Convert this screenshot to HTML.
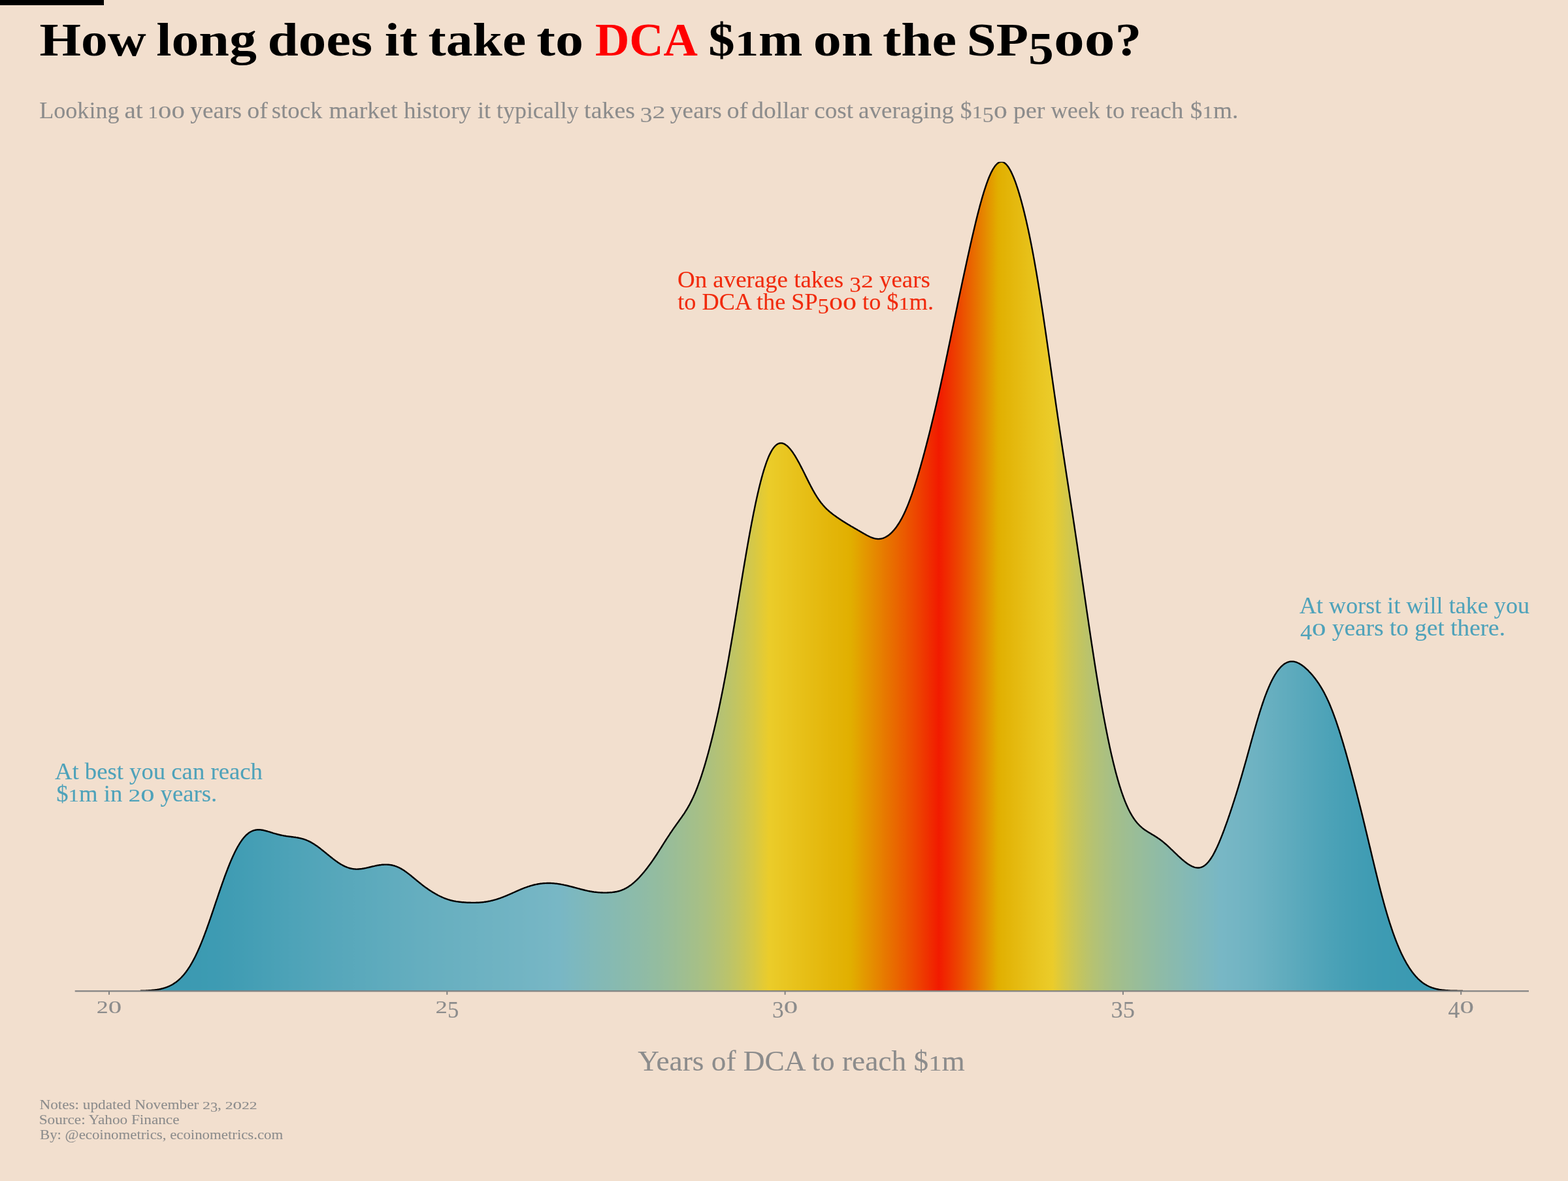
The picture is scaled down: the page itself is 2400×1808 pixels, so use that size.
<!DOCTYPE html>
<html lang="en"><head><meta charset="utf-8"><title>How long does it take to DCA $1m on the SP500?</title>
<style>
html,body{margin:0;padding:0;background:#f2dfce;}
body{width:2400px;height:1808px;overflow:hidden;}
svg{display:block;}
text{font-family:"Liberation Serif",serif;white-space:pre;}
</style></head><body>
<svg xmlns="http://www.w3.org/2000/svg" width="2400" height="1808" viewBox="0 0 2400 1808">
<defs><linearGradient id="g" gradientUnits="userSpaceOnUse" x1="214.9" y1="0" x2="2238.9" y2="0">
<stop offset="0.0000" stop-color="#3b9ab2"/>
<stop offset="0.0010" stop-color="#3b9ab2"/>
<stop offset="0.0020" stop-color="#3b9ab2"/>
<stop offset="0.0030" stop-color="#3b9ab2"/>
<stop offset="0.0040" stop-color="#3b9ab2"/>
<stop offset="0.0049" stop-color="#3b9ab2"/>
<stop offset="0.0059" stop-color="#3b9ab2"/>
<stop offset="0.0069" stop-color="#3b9ab2"/>
<stop offset="0.0079" stop-color="#3b9ab2"/>
<stop offset="0.0089" stop-color="#3b9ab2"/>
<stop offset="0.0099" stop-color="#3b9ab2"/>
<stop offset="0.0109" stop-color="#3b9ab2"/>
<stop offset="0.0119" stop-color="#3b9ab2"/>
<stop offset="0.0128" stop-color="#3b9ab2"/>
<stop offset="0.0138" stop-color="#3b9ab2"/>
<stop offset="0.0148" stop-color="#3b9ab2"/>
<stop offset="0.0158" stop-color="#3b9ab2"/>
<stop offset="0.0168" stop-color="#3b9ab2"/>
<stop offset="0.0178" stop-color="#3b9ab2"/>
<stop offset="0.0188" stop-color="#3b9ab2"/>
<stop offset="0.0198" stop-color="#3b9ab2"/>
<stop offset="0.0208" stop-color="#3b9ab2"/>
<stop offset="0.0217" stop-color="#3b9ab2"/>
<stop offset="0.0227" stop-color="#3b9ab2"/>
<stop offset="0.0237" stop-color="#3b9ab2"/>
<stop offset="0.0247" stop-color="#3b9ab2"/>
<stop offset="0.0257" stop-color="#3b9ab2"/>
<stop offset="0.0267" stop-color="#3b9ab2"/>
<stop offset="0.0277" stop-color="#3b9ab2"/>
<stop offset="0.0287" stop-color="#3b9ab2"/>
<stop offset="0.0296" stop-color="#3b9ab2"/>
<stop offset="0.0306" stop-color="#3b9ab2"/>
<stop offset="0.0316" stop-color="#3b9ab2"/>
<stop offset="0.0326" stop-color="#3b9ab2"/>
<stop offset="0.0336" stop-color="#3b9ab2"/>
<stop offset="0.0346" stop-color="#3b9ab2"/>
<stop offset="0.0356" stop-color="#3b9ab2"/>
<stop offset="0.0366" stop-color="#3b9ab2"/>
<stop offset="0.0375" stop-color="#3b9ab2"/>
<stop offset="0.0385" stop-color="#3c9ab2"/>
<stop offset="0.0395" stop-color="#3c9ab2"/>
<stop offset="0.0405" stop-color="#3c9ab2"/>
<stop offset="0.0415" stop-color="#3c9ab2"/>
<stop offset="0.0425" stop-color="#3c9ab2"/>
<stop offset="0.0435" stop-color="#3c9ab2"/>
<stop offset="0.0445" stop-color="#3c9ab2"/>
<stop offset="0.0455" stop-color="#3c9ab2"/>
<stop offset="0.0464" stop-color="#3c9bb2"/>
<stop offset="0.0474" stop-color="#3c9bb2"/>
<stop offset="0.0484" stop-color="#3c9bb2"/>
<stop offset="0.0494" stop-color="#3c9bb2"/>
<stop offset="0.0504" stop-color="#3c9bb2"/>
<stop offset="0.0514" stop-color="#3d9bb3"/>
<stop offset="0.0524" stop-color="#3d9bb3"/>
<stop offset="0.0534" stop-color="#3d9bb3"/>
<stop offset="0.0543" stop-color="#3d9bb3"/>
<stop offset="0.0553" stop-color="#3d9bb3"/>
<stop offset="0.0563" stop-color="#3d9bb3"/>
<stop offset="0.0573" stop-color="#3d9bb3"/>
<stop offset="0.0583" stop-color="#3e9bb3"/>
<stop offset="0.0593" stop-color="#3e9bb3"/>
<stop offset="0.0603" stop-color="#3e9bb3"/>
<stop offset="0.0613" stop-color="#3e9cb3"/>
<stop offset="0.0623" stop-color="#3e9cb3"/>
<stop offset="0.0632" stop-color="#3f9cb3"/>
<stop offset="0.0642" stop-color="#3f9cb3"/>
<stop offset="0.0652" stop-color="#3f9cb3"/>
<stop offset="0.0662" stop-color="#3f9cb3"/>
<stop offset="0.0672" stop-color="#409cb3"/>
<stop offset="0.0682" stop-color="#409cb3"/>
<stop offset="0.0692" stop-color="#409cb4"/>
<stop offset="0.0702" stop-color="#409cb4"/>
<stop offset="0.0711" stop-color="#419db4"/>
<stop offset="0.0721" stop-color="#419db4"/>
<stop offset="0.0731" stop-color="#419db4"/>
<stop offset="0.0741" stop-color="#419db4"/>
<stop offset="0.0751" stop-color="#429db4"/>
<stop offset="0.0761" stop-color="#429db4"/>
<stop offset="0.0771" stop-color="#429db4"/>
<stop offset="0.0781" stop-color="#429eb4"/>
<stop offset="0.0791" stop-color="#439eb4"/>
<stop offset="0.0800" stop-color="#439eb4"/>
<stop offset="0.0810" stop-color="#439eb5"/>
<stop offset="0.0820" stop-color="#449eb5"/>
<stop offset="0.0830" stop-color="#449eb5"/>
<stop offset="0.0840" stop-color="#449eb5"/>
<stop offset="0.0850" stop-color="#449eb5"/>
<stop offset="0.0860" stop-color="#459fb5"/>
<stop offset="0.0870" stop-color="#459fb5"/>
<stop offset="0.0879" stop-color="#459fb5"/>
<stop offset="0.0889" stop-color="#469fb5"/>
<stop offset="0.0899" stop-color="#469fb5"/>
<stop offset="0.0909" stop-color="#469fb6"/>
<stop offset="0.0919" stop-color="#479fb6"/>
<stop offset="0.0929" stop-color="#47a0b6"/>
<stop offset="0.0939" stop-color="#47a0b6"/>
<stop offset="0.0949" stop-color="#47a0b6"/>
<stop offset="0.0958" stop-color="#48a0b6"/>
<stop offset="0.0968" stop-color="#48a0b6"/>
<stop offset="0.0978" stop-color="#48a0b6"/>
<stop offset="0.0988" stop-color="#49a0b6"/>
<stop offset="0.0998" stop-color="#49a1b6"/>
<stop offset="0.1008" stop-color="#49a1b6"/>
<stop offset="0.1018" stop-color="#4aa1b7"/>
<stop offset="0.1028" stop-color="#4aa1b7"/>
<stop offset="0.1038" stop-color="#4aa1b7"/>
<stop offset="0.1047" stop-color="#4aa1b7"/>
<stop offset="0.1057" stop-color="#4ba1b7"/>
<stop offset="0.1067" stop-color="#4ba2b7"/>
<stop offset="0.1077" stop-color="#4ba2b7"/>
<stop offset="0.1087" stop-color="#4ca2b7"/>
<stop offset="0.1097" stop-color="#4ca2b7"/>
<stop offset="0.1107" stop-color="#4ca2b7"/>
<stop offset="0.1117" stop-color="#4ca2b7"/>
<stop offset="0.1126" stop-color="#4da2b8"/>
<stop offset="0.1136" stop-color="#4da3b8"/>
<stop offset="0.1146" stop-color="#4da3b8"/>
<stop offset="0.1156" stop-color="#4ea3b8"/>
<stop offset="0.1166" stop-color="#4ea3b8"/>
<stop offset="0.1176" stop-color="#4ea3b8"/>
<stop offset="0.1186" stop-color="#4ea3b8"/>
<stop offset="0.1196" stop-color="#4fa3b8"/>
<stop offset="0.1206" stop-color="#4fa3b8"/>
<stop offset="0.1215" stop-color="#4fa4b8"/>
<stop offset="0.1225" stop-color="#50a4b8"/>
<stop offset="0.1235" stop-color="#50a4b8"/>
<stop offset="0.1245" stop-color="#50a4b9"/>
<stop offset="0.1255" stop-color="#50a4b9"/>
<stop offset="0.1265" stop-color="#51a4b9"/>
<stop offset="0.1275" stop-color="#51a4b9"/>
<stop offset="0.1285" stop-color="#51a5b9"/>
<stop offset="0.1294" stop-color="#51a5b9"/>
<stop offset="0.1304" stop-color="#52a5b9"/>
<stop offset="0.1314" stop-color="#52a5b9"/>
<stop offset="0.1324" stop-color="#52a5b9"/>
<stop offset="0.1334" stop-color="#53a5b9"/>
<stop offset="0.1344" stop-color="#53a5b9"/>
<stop offset="0.1354" stop-color="#53a5ba"/>
<stop offset="0.1364" stop-color="#53a6ba"/>
<stop offset="0.1374" stop-color="#54a6ba"/>
<stop offset="0.1383" stop-color="#54a6ba"/>
<stop offset="0.1393" stop-color="#54a6ba"/>
<stop offset="0.1403" stop-color="#54a6ba"/>
<stop offset="0.1413" stop-color="#55a6ba"/>
<stop offset="0.1423" stop-color="#55a6ba"/>
<stop offset="0.1433" stop-color="#55a6ba"/>
<stop offset="0.1443" stop-color="#55a7ba"/>
<stop offset="0.1453" stop-color="#56a7ba"/>
<stop offset="0.1462" stop-color="#56a7ba"/>
<stop offset="0.1472" stop-color="#56a7ba"/>
<stop offset="0.1482" stop-color="#56a7bb"/>
<stop offset="0.1492" stop-color="#57a7bb"/>
<stop offset="0.1502" stop-color="#57a7bb"/>
<stop offset="0.1512" stop-color="#57a7bb"/>
<stop offset="0.1522" stop-color="#57a7bb"/>
<stop offset="0.1532" stop-color="#58a8bb"/>
<stop offset="0.1542" stop-color="#58a8bb"/>
<stop offset="0.1551" stop-color="#58a8bb"/>
<stop offset="0.1561" stop-color="#58a8bb"/>
<stop offset="0.1571" stop-color="#58a8bb"/>
<stop offset="0.1581" stop-color="#59a8bb"/>
<stop offset="0.1591" stop-color="#59a8bb"/>
<stop offset="0.1601" stop-color="#59a8bb"/>
<stop offset="0.1611" stop-color="#59a8bb"/>
<stop offset="0.1621" stop-color="#5aa9bc"/>
<stop offset="0.1630" stop-color="#5aa9bc"/>
<stop offset="0.1640" stop-color="#5aa9bc"/>
<stop offset="0.1650" stop-color="#5aa9bc"/>
<stop offset="0.1660" stop-color="#5ba9bc"/>
<stop offset="0.1670" stop-color="#5ba9bc"/>
<stop offset="0.1680" stop-color="#5ba9bc"/>
<stop offset="0.1690" stop-color="#5ba9bc"/>
<stop offset="0.1700" stop-color="#5ba9bc"/>
<stop offset="0.1709" stop-color="#5caabc"/>
<stop offset="0.1719" stop-color="#5caabc"/>
<stop offset="0.1729" stop-color="#5caabc"/>
<stop offset="0.1739" stop-color="#5caabc"/>
<stop offset="0.1749" stop-color="#5daabc"/>
<stop offset="0.1759" stop-color="#5daabd"/>
<stop offset="0.1769" stop-color="#5daabd"/>
<stop offset="0.1779" stop-color="#5daabd"/>
<stop offset="0.1789" stop-color="#5eaabd"/>
<stop offset="0.1798" stop-color="#5eabbd"/>
<stop offset="0.1808" stop-color="#5eabbd"/>
<stop offset="0.1818" stop-color="#5eabbd"/>
<stop offset="0.1828" stop-color="#5eabbd"/>
<stop offset="0.1838" stop-color="#5fabbd"/>
<stop offset="0.1848" stop-color="#5fabbd"/>
<stop offset="0.1858" stop-color="#5fabbd"/>
<stop offset="0.1868" stop-color="#5fabbd"/>
<stop offset="0.1877" stop-color="#60abbd"/>
<stop offset="0.1887" stop-color="#60acbd"/>
<stop offset="0.1897" stop-color="#60acbe"/>
<stop offset="0.1907" stop-color="#60acbe"/>
<stop offset="0.1917" stop-color="#61acbe"/>
<stop offset="0.1927" stop-color="#61acbe"/>
<stop offset="0.1937" stop-color="#61acbe"/>
<stop offset="0.1947" stop-color="#61acbe"/>
<stop offset="0.1957" stop-color="#61acbe"/>
<stop offset="0.1966" stop-color="#62acbe"/>
<stop offset="0.1976" stop-color="#62adbe"/>
<stop offset="0.1986" stop-color="#62adbe"/>
<stop offset="0.1996" stop-color="#62adbe"/>
<stop offset="0.2006" stop-color="#63adbe"/>
<stop offset="0.2016" stop-color="#63adbe"/>
<stop offset="0.2026" stop-color="#63adbe"/>
<stop offset="0.2036" stop-color="#63adbf"/>
<stop offset="0.2045" stop-color="#63adbf"/>
<stop offset="0.2055" stop-color="#64adbf"/>
<stop offset="0.2065" stop-color="#64adbf"/>
<stop offset="0.2075" stop-color="#64aebf"/>
<stop offset="0.2085" stop-color="#64aebf"/>
<stop offset="0.2095" stop-color="#65aebf"/>
<stop offset="0.2105" stop-color="#65aebf"/>
<stop offset="0.2115" stop-color="#65aebf"/>
<stop offset="0.2125" stop-color="#65aebf"/>
<stop offset="0.2134" stop-color="#65aebf"/>
<stop offset="0.2144" stop-color="#66aebf"/>
<stop offset="0.2154" stop-color="#66aebf"/>
<stop offset="0.2164" stop-color="#66aebf"/>
<stop offset="0.2174" stop-color="#66aebf"/>
<stop offset="0.2184" stop-color="#66afbf"/>
<stop offset="0.2194" stop-color="#66afc0"/>
<stop offset="0.2204" stop-color="#67afc0"/>
<stop offset="0.2213" stop-color="#67afc0"/>
<stop offset="0.2223" stop-color="#67afc0"/>
<stop offset="0.2233" stop-color="#67afc0"/>
<stop offset="0.2243" stop-color="#67afc0"/>
<stop offset="0.2253" stop-color="#68afc0"/>
<stop offset="0.2263" stop-color="#68afc0"/>
<stop offset="0.2273" stop-color="#68afc0"/>
<stop offset="0.2283" stop-color="#68afc0"/>
<stop offset="0.2292" stop-color="#68b0c0"/>
<stop offset="0.2302" stop-color="#68b0c0"/>
<stop offset="0.2312" stop-color="#69b0c0"/>
<stop offset="0.2322" stop-color="#69b0c0"/>
<stop offset="0.2332" stop-color="#69b0c0"/>
<stop offset="0.2342" stop-color="#69b0c0"/>
<stop offset="0.2352" stop-color="#69b0c0"/>
<stop offset="0.2362" stop-color="#69b0c0"/>
<stop offset="0.2372" stop-color="#6ab0c1"/>
<stop offset="0.2381" stop-color="#6ab0c1"/>
<stop offset="0.2391" stop-color="#6ab0c1"/>
<stop offset="0.2401" stop-color="#6ab0c1"/>
<stop offset="0.2411" stop-color="#6ab0c1"/>
<stop offset="0.2421" stop-color="#6ab1c1"/>
<stop offset="0.2431" stop-color="#6bb1c1"/>
<stop offset="0.2441" stop-color="#6bb1c1"/>
<stop offset="0.2451" stop-color="#6bb1c1"/>
<stop offset="0.2460" stop-color="#6bb1c1"/>
<stop offset="0.2470" stop-color="#6bb1c1"/>
<stop offset="0.2480" stop-color="#6bb1c1"/>
<stop offset="0.2490" stop-color="#6cb1c1"/>
<stop offset="0.2500" stop-color="#6cb1c1"/>
<stop offset="0.2510" stop-color="#6cb1c1"/>
<stop offset="0.2520" stop-color="#6cb1c1"/>
<stop offset="0.2530" stop-color="#6cb1c1"/>
<stop offset="0.2540" stop-color="#6cb1c1"/>
<stop offset="0.2549" stop-color="#6db2c1"/>
<stop offset="0.2559" stop-color="#6db2c1"/>
<stop offset="0.2569" stop-color="#6db2c2"/>
<stop offset="0.2579" stop-color="#6db2c2"/>
<stop offset="0.2589" stop-color="#6db2c2"/>
<stop offset="0.2599" stop-color="#6db2c2"/>
<stop offset="0.2609" stop-color="#6eb2c2"/>
<stop offset="0.2619" stop-color="#6eb2c2"/>
<stop offset="0.2628" stop-color="#6eb2c2"/>
<stop offset="0.2638" stop-color="#6eb2c2"/>
<stop offset="0.2648" stop-color="#6eb2c2"/>
<stop offset="0.2658" stop-color="#6eb2c2"/>
<stop offset="0.2668" stop-color="#6fb3c2"/>
<stop offset="0.2678" stop-color="#6fb3c2"/>
<stop offset="0.2688" stop-color="#6fb3c2"/>
<stop offset="0.2698" stop-color="#6fb3c2"/>
<stop offset="0.2708" stop-color="#6fb3c2"/>
<stop offset="0.2717" stop-color="#6fb3c2"/>
<stop offset="0.2727" stop-color="#70b3c2"/>
<stop offset="0.2737" stop-color="#70b3c2"/>
<stop offset="0.2747" stop-color="#70b3c2"/>
<stop offset="0.2757" stop-color="#70b3c3"/>
<stop offset="0.2767" stop-color="#70b3c3"/>
<stop offset="0.2777" stop-color="#70b3c3"/>
<stop offset="0.2787" stop-color="#71b3c3"/>
<stop offset="0.2796" stop-color="#71b4c3"/>
<stop offset="0.2806" stop-color="#71b4c3"/>
<stop offset="0.2816" stop-color="#71b4c3"/>
<stop offset="0.2826" stop-color="#71b4c3"/>
<stop offset="0.2836" stop-color="#72b4c3"/>
<stop offset="0.2846" stop-color="#72b4c3"/>
<stop offset="0.2856" stop-color="#72b4c3"/>
<stop offset="0.2866" stop-color="#72b4c3"/>
<stop offset="0.2875" stop-color="#72b4c3"/>
<stop offset="0.2885" stop-color="#72b4c3"/>
<stop offset="0.2895" stop-color="#73b4c3"/>
<stop offset="0.2905" stop-color="#73b5c3"/>
<stop offset="0.2915" stop-color="#73b5c3"/>
<stop offset="0.2925" stop-color="#73b5c4"/>
<stop offset="0.2935" stop-color="#73b5c4"/>
<stop offset="0.2945" stop-color="#74b5c4"/>
<stop offset="0.2955" stop-color="#74b5c4"/>
<stop offset="0.2964" stop-color="#74b5c4"/>
<stop offset="0.2974" stop-color="#74b5c4"/>
<stop offset="0.2984" stop-color="#74b5c4"/>
<stop offset="0.2994" stop-color="#75b5c4"/>
<stop offset="0.3004" stop-color="#75b5c4"/>
<stop offset="0.3014" stop-color="#75b6c4"/>
<stop offset="0.3024" stop-color="#75b6c4"/>
<stop offset="0.3034" stop-color="#75b6c4"/>
<stop offset="0.3043" stop-color="#76b6c4"/>
<stop offset="0.3053" stop-color="#76b6c4"/>
<stop offset="0.3063" stop-color="#76b6c4"/>
<stop offset="0.3073" stop-color="#76b6c4"/>
<stop offset="0.3083" stop-color="#76b6c4"/>
<stop offset="0.3093" stop-color="#77b6c5"/>
<stop offset="0.3103" stop-color="#77b6c5"/>
<stop offset="0.3113" stop-color="#77b7c5"/>
<stop offset="0.3123" stop-color="#77b7c5"/>
<stop offset="0.3132" stop-color="#77b7c5"/>
<stop offset="0.3142" stop-color="#78b7c5"/>
<stop offset="0.3152" stop-color="#78b7c5"/>
<stop offset="0.3162" stop-color="#78b7c5"/>
<stop offset="0.3172" stop-color="#78b7c5"/>
<stop offset="0.3182" stop-color="#79b7c4"/>
<stop offset="0.3192" stop-color="#79b7c4"/>
<stop offset="0.3202" stop-color="#79b7c3"/>
<stop offset="0.3211" stop-color="#7ab7c3"/>
<stop offset="0.3221" stop-color="#7ab7c2"/>
<stop offset="0.3231" stop-color="#7bb7c2"/>
<stop offset="0.3241" stop-color="#7bb8c1"/>
<stop offset="0.3251" stop-color="#7bb8c1"/>
<stop offset="0.3261" stop-color="#7cb8c0"/>
<stop offset="0.3271" stop-color="#7cb8c0"/>
<stop offset="0.3281" stop-color="#7cb8bf"/>
<stop offset="0.3291" stop-color="#7db8bf"/>
<stop offset="0.3300" stop-color="#7db8be"/>
<stop offset="0.3310" stop-color="#7db8be"/>
<stop offset="0.3320" stop-color="#7eb8bd"/>
<stop offset="0.3330" stop-color="#7eb8bd"/>
<stop offset="0.3340" stop-color="#7eb8bc"/>
<stop offset="0.3350" stop-color="#7fb8bc"/>
<stop offset="0.3360" stop-color="#7fb8bb"/>
<stop offset="0.3370" stop-color="#80b8bb"/>
<stop offset="0.3379" stop-color="#80b8ba"/>
<stop offset="0.3389" stop-color="#80b8ba"/>
<stop offset="0.3399" stop-color="#81b9b9"/>
<stop offset="0.3409" stop-color="#81b9b9"/>
<stop offset="0.3419" stop-color="#81b9b9"/>
<stop offset="0.3429" stop-color="#82b9b8"/>
<stop offset="0.3439" stop-color="#82b9b8"/>
<stop offset="0.3449" stop-color="#82b9b7"/>
<stop offset="0.3458" stop-color="#83b9b7"/>
<stop offset="0.3468" stop-color="#83b9b6"/>
<stop offset="0.3478" stop-color="#83b9b6"/>
<stop offset="0.3488" stop-color="#84b9b5"/>
<stop offset="0.3498" stop-color="#84b9b5"/>
<stop offset="0.3508" stop-color="#84b9b4"/>
<stop offset="0.3518" stop-color="#85b9b4"/>
<stop offset="0.3528" stop-color="#85b9b4"/>
<stop offset="0.3538" stop-color="#85b9b3"/>
<stop offset="0.3547" stop-color="#86b9b3"/>
<stop offset="0.3557" stop-color="#86bab2"/>
<stop offset="0.3567" stop-color="#86bab2"/>
<stop offset="0.3577" stop-color="#87bab1"/>
<stop offset="0.3587" stop-color="#87bab1"/>
<stop offset="0.3597" stop-color="#87bab0"/>
<stop offset="0.3607" stop-color="#88bab0"/>
<stop offset="0.3617" stop-color="#88baaf"/>
<stop offset="0.3626" stop-color="#88baaf"/>
<stop offset="0.3636" stop-color="#89baae"/>
<stop offset="0.3646" stop-color="#89baae"/>
<stop offset="0.3656" stop-color="#89baad"/>
<stop offset="0.3666" stop-color="#8abaad"/>
<stop offset="0.3676" stop-color="#8abaad"/>
<stop offset="0.3686" stop-color="#8bbaac"/>
<stop offset="0.3696" stop-color="#8bbaac"/>
<stop offset="0.3706" stop-color="#8bbbab"/>
<stop offset="0.3715" stop-color="#8cbbab"/>
<stop offset="0.3725" stop-color="#8cbbaa"/>
<stop offset="0.3735" stop-color="#8cbbaa"/>
<stop offset="0.3745" stop-color="#8dbba9"/>
<stop offset="0.3755" stop-color="#8dbba9"/>
<stop offset="0.3765" stop-color="#8dbba8"/>
<stop offset="0.3775" stop-color="#8ebba8"/>
<stop offset="0.3785" stop-color="#8ebba7"/>
<stop offset="0.3794" stop-color="#8fbba6"/>
<stop offset="0.3804" stop-color="#8fbba6"/>
<stop offset="0.3814" stop-color="#90bba5"/>
<stop offset="0.3824" stop-color="#90bba5"/>
<stop offset="0.3834" stop-color="#90bba4"/>
<stop offset="0.3844" stop-color="#91bca4"/>
<stop offset="0.3854" stop-color="#91bca3"/>
<stop offset="0.3864" stop-color="#92bca2"/>
<stop offset="0.3874" stop-color="#92bca2"/>
<stop offset="0.3883" stop-color="#93bca1"/>
<stop offset="0.3893" stop-color="#93bca1"/>
<stop offset="0.3903" stop-color="#93bca0"/>
<stop offset="0.3913" stop-color="#94bc9f"/>
<stop offset="0.3923" stop-color="#94bc9f"/>
<stop offset="0.3933" stop-color="#95bc9e"/>
<stop offset="0.3943" stop-color="#95bc9d"/>
<stop offset="0.3953" stop-color="#96bc9d"/>
<stop offset="0.3962" stop-color="#96bd9c"/>
<stop offset="0.3972" stop-color="#97bd9b"/>
<stop offset="0.3982" stop-color="#97bd9b"/>
<stop offset="0.3992" stop-color="#98bd9a"/>
<stop offset="0.4002" stop-color="#99bd99"/>
<stop offset="0.4012" stop-color="#99bd98"/>
<stop offset="0.4022" stop-color="#9abd98"/>
<stop offset="0.4032" stop-color="#9abd97"/>
<stop offset="0.4042" stop-color="#9bbd96"/>
<stop offset="0.4051" stop-color="#9bbd95"/>
<stop offset="0.4061" stop-color="#9cbe95"/>
<stop offset="0.4071" stop-color="#9dbe94"/>
<stop offset="0.4081" stop-color="#9dbe93"/>
<stop offset="0.4091" stop-color="#9ebe92"/>
<stop offset="0.4101" stop-color="#9ebe91"/>
<stop offset="0.4111" stop-color="#9fbe91"/>
<stop offset="0.4121" stop-color="#a0be90"/>
<stop offset="0.4130" stop-color="#a0be8f"/>
<stop offset="0.4140" stop-color="#a1be8e"/>
<stop offset="0.4150" stop-color="#a1bf8d"/>
<stop offset="0.4160" stop-color="#a2bf8c"/>
<stop offset="0.4170" stop-color="#a3bf8b"/>
<stop offset="0.4180" stop-color="#a3bf8a"/>
<stop offset="0.4190" stop-color="#a4bf8a"/>
<stop offset="0.4200" stop-color="#a5bf89"/>
<stop offset="0.4209" stop-color="#a5bf88"/>
<stop offset="0.4219" stop-color="#a6bf87"/>
<stop offset="0.4229" stop-color="#a7c086"/>
<stop offset="0.4239" stop-color="#a8c085"/>
<stop offset="0.4249" stop-color="#a8c084"/>
<stop offset="0.4259" stop-color="#a9c083"/>
<stop offset="0.4269" stop-color="#aac082"/>
<stop offset="0.4279" stop-color="#abc081"/>
<stop offset="0.4289" stop-color="#acc080"/>
<stop offset="0.4298" stop-color="#acc17e"/>
<stop offset="0.4308" stop-color="#adc17d"/>
<stop offset="0.4318" stop-color="#aec17c"/>
<stop offset="0.4328" stop-color="#afc17b"/>
<stop offset="0.4338" stop-color="#b0c17a"/>
<stop offset="0.4348" stop-color="#b1c179"/>
<stop offset="0.4358" stop-color="#b2c277"/>
<stop offset="0.4368" stop-color="#b3c276"/>
<stop offset="0.4377" stop-color="#b4c275"/>
<stop offset="0.4387" stop-color="#b5c273"/>
<stop offset="0.4397" stop-color="#b6c272"/>
<stop offset="0.4407" stop-color="#b7c271"/>
<stop offset="0.4417" stop-color="#b8c36f"/>
<stop offset="0.4427" stop-color="#b9c36e"/>
<stop offset="0.4437" stop-color="#bac36c"/>
<stop offset="0.4447" stop-color="#bbc36b"/>
<stop offset="0.4457" stop-color="#bcc369"/>
<stop offset="0.4466" stop-color="#bdc467"/>
<stop offset="0.4476" stop-color="#bfc466"/>
<stop offset="0.4486" stop-color="#c0c464"/>
<stop offset="0.4496" stop-color="#c1c462"/>
<stop offset="0.4506" stop-color="#c2c561"/>
<stop offset="0.4516" stop-color="#c4c55f"/>
<stop offset="0.4526" stop-color="#c5c55d"/>
<stop offset="0.4536" stop-color="#c7c55b"/>
<stop offset="0.4545" stop-color="#c8c659"/>
<stop offset="0.4555" stop-color="#c9c657"/>
<stop offset="0.4565" stop-color="#cbc655"/>
<stop offset="0.4575" stop-color="#ccc653"/>
<stop offset="0.4585" stop-color="#cec751"/>
<stop offset="0.4595" stop-color="#cfc74f"/>
<stop offset="0.4605" stop-color="#d1c74d"/>
<stop offset="0.4615" stop-color="#d3c84b"/>
<stop offset="0.4625" stop-color="#d4c849"/>
<stop offset="0.4634" stop-color="#d6c847"/>
<stop offset="0.4644" stop-color="#d7c844"/>
<stop offset="0.4654" stop-color="#d9c942"/>
<stop offset="0.4664" stop-color="#dbc940"/>
<stop offset="0.4674" stop-color="#ddc93e"/>
<stop offset="0.4684" stop-color="#deca3b"/>
<stop offset="0.4694" stop-color="#e0ca39"/>
<stop offset="0.4704" stop-color="#e2ca36"/>
<stop offset="0.4713" stop-color="#e4cb34"/>
<stop offset="0.4723" stop-color="#e5cb32"/>
<stop offset="0.4733" stop-color="#e7cb2f"/>
<stop offset="0.4743" stop-color="#e9cc2d"/>
<stop offset="0.4753" stop-color="#ebcc2a"/>
<stop offset="0.4763" stop-color="#ebcc29"/>
<stop offset="0.4773" stop-color="#ebcb29"/>
<stop offset="0.4783" stop-color="#eacb28"/>
<stop offset="0.4792" stop-color="#eaca27"/>
<stop offset="0.4802" stop-color="#eaca26"/>
<stop offset="0.4812" stop-color="#eac926"/>
<stop offset="0.4822" stop-color="#eac925"/>
<stop offset="0.4832" stop-color="#eac824"/>
<stop offset="0.4842" stop-color="#e9c824"/>
<stop offset="0.4852" stop-color="#e9c723"/>
<stop offset="0.4862" stop-color="#e9c722"/>
<stop offset="0.4872" stop-color="#e9c621"/>
<stop offset="0.4881" stop-color="#e9c621"/>
<stop offset="0.4891" stop-color="#e9c520"/>
<stop offset="0.4901" stop-color="#e8c51f"/>
<stop offset="0.4911" stop-color="#e8c41f"/>
<stop offset="0.4921" stop-color="#e8c41e"/>
<stop offset="0.4931" stop-color="#e8c31d"/>
<stop offset="0.4941" stop-color="#e8c31c"/>
<stop offset="0.4951" stop-color="#e8c21c"/>
<stop offset="0.4960" stop-color="#e7c21b"/>
<stop offset="0.4970" stop-color="#e7c11a"/>
<stop offset="0.4980" stop-color="#e7c11a"/>
<stop offset="0.4990" stop-color="#e7c019"/>
<stop offset="0.5000" stop-color="#e7c018"/>
<stop offset="0.5010" stop-color="#e7bf17"/>
<stop offset="0.5020" stop-color="#e6bf17"/>
<stop offset="0.5030" stop-color="#e6be16"/>
<stop offset="0.5040" stop-color="#e6be15"/>
<stop offset="0.5049" stop-color="#e6bd15"/>
<stop offset="0.5059" stop-color="#e6bd14"/>
<stop offset="0.5069" stop-color="#e6bc13"/>
<stop offset="0.5079" stop-color="#e5bc13"/>
<stop offset="0.5089" stop-color="#e5bb12"/>
<stop offset="0.5099" stop-color="#e5bb11"/>
<stop offset="0.5109" stop-color="#e5bb11"/>
<stop offset="0.5119" stop-color="#e5ba10"/>
<stop offset="0.5128" stop-color="#e5ba0f"/>
<stop offset="0.5138" stop-color="#e5b90f"/>
<stop offset="0.5148" stop-color="#e4b90e"/>
<stop offset="0.5158" stop-color="#e4b80e"/>
<stop offset="0.5168" stop-color="#e4b80d"/>
<stop offset="0.5178" stop-color="#e4b70c"/>
<stop offset="0.5188" stop-color="#e4b70c"/>
<stop offset="0.5198" stop-color="#e4b70b"/>
<stop offset="0.5208" stop-color="#e3b60a"/>
<stop offset="0.5217" stop-color="#e3b60a"/>
<stop offset="0.5227" stop-color="#e3b509"/>
<stop offset="0.5237" stop-color="#e3b508"/>
<stop offset="0.5247" stop-color="#e3b408"/>
<stop offset="0.5257" stop-color="#e3b407"/>
<stop offset="0.5267" stop-color="#e3b407"/>
<stop offset="0.5277" stop-color="#e2b306"/>
<stop offset="0.5287" stop-color="#e2b305"/>
<stop offset="0.5296" stop-color="#e2b205"/>
<stop offset="0.5306" stop-color="#e2b204"/>
<stop offset="0.5316" stop-color="#e2b103"/>
<stop offset="0.5326" stop-color="#e2b103"/>
<stop offset="0.5336" stop-color="#e2b102"/>
<stop offset="0.5346" stop-color="#e1b002"/>
<stop offset="0.5356" stop-color="#e1b001"/>
<stop offset="0.5366" stop-color="#e1af00"/>
<stop offset="0.5375" stop-color="#e1ae00"/>
<stop offset="0.5385" stop-color="#e1ac00"/>
<stop offset="0.5395" stop-color="#e2aa00"/>
<stop offset="0.5405" stop-color="#e2a800"/>
<stop offset="0.5415" stop-color="#e2a600"/>
<stop offset="0.5425" stop-color="#e2a400"/>
<stop offset="0.5435" stop-color="#e3a200"/>
<stop offset="0.5445" stop-color="#e39f00"/>
<stop offset="0.5455" stop-color="#e39d00"/>
<stop offset="0.5464" stop-color="#e39b00"/>
<stop offset="0.5474" stop-color="#e39900"/>
<stop offset="0.5484" stop-color="#e49700"/>
<stop offset="0.5494" stop-color="#e49500"/>
<stop offset="0.5504" stop-color="#e49300"/>
<stop offset="0.5514" stop-color="#e49100"/>
<stop offset="0.5524" stop-color="#e58f00"/>
<stop offset="0.5534" stop-color="#e58d00"/>
<stop offset="0.5543" stop-color="#e58b00"/>
<stop offset="0.5553" stop-color="#e58900"/>
<stop offset="0.5563" stop-color="#e68700"/>
<stop offset="0.5573" stop-color="#e68500"/>
<stop offset="0.5583" stop-color="#e68300"/>
<stop offset="0.5593" stop-color="#e68100"/>
<stop offset="0.5603" stop-color="#e77f00"/>
<stop offset="0.5613" stop-color="#e77c00"/>
<stop offset="0.5623" stop-color="#e77a00"/>
<stop offset="0.5632" stop-color="#e77800"/>
<stop offset="0.5642" stop-color="#e77600"/>
<stop offset="0.5652" stop-color="#e87400"/>
<stop offset="0.5662" stop-color="#e87200"/>
<stop offset="0.5672" stop-color="#e87000"/>
<stop offset="0.5682" stop-color="#e86e00"/>
<stop offset="0.5692" stop-color="#e96c00"/>
<stop offset="0.5702" stop-color="#e96a00"/>
<stop offset="0.5711" stop-color="#e96800"/>
<stop offset="0.5721" stop-color="#e96600"/>
<stop offset="0.5731" stop-color="#ea6400"/>
<stop offset="0.5741" stop-color="#ea6100"/>
<stop offset="0.5751" stop-color="#ea5f00"/>
<stop offset="0.5761" stop-color="#ea5d00"/>
<stop offset="0.5771" stop-color="#eb5b00"/>
<stop offset="0.5781" stop-color="#eb5900"/>
<stop offset="0.5791" stop-color="#eb5700"/>
<stop offset="0.5800" stop-color="#eb5400"/>
<stop offset="0.5810" stop-color="#ec5200"/>
<stop offset="0.5820" stop-color="#ec5000"/>
<stop offset="0.5830" stop-color="#ec4e00"/>
<stop offset="0.5840" stop-color="#ec4c00"/>
<stop offset="0.5850" stop-color="#ed4900"/>
<stop offset="0.5860" stop-color="#ed4700"/>
<stop offset="0.5870" stop-color="#ed4500"/>
<stop offset="0.5879" stop-color="#ed4200"/>
<stop offset="0.5889" stop-color="#ee4000"/>
<stop offset="0.5899" stop-color="#ee3e00"/>
<stop offset="0.5909" stop-color="#ee3b00"/>
<stop offset="0.5919" stop-color="#ee3900"/>
<stop offset="0.5929" stop-color="#ef3600"/>
<stop offset="0.5939" stop-color="#ef3400"/>
<stop offset="0.5949" stop-color="#ef3200"/>
<stop offset="0.5958" stop-color="#f02f00"/>
<stop offset="0.5968" stop-color="#f02c00"/>
<stop offset="0.5978" stop-color="#f02a00"/>
<stop offset="0.5988" stop-color="#f02700"/>
<stop offset="0.5998" stop-color="#f12500"/>
<stop offset="0.6008" stop-color="#f12200"/>
<stop offset="0.6018" stop-color="#f12000"/>
<stop offset="0.6028" stop-color="#f21d00"/>
<stop offset="0.6038" stop-color="#f21a00"/>
<stop offset="0.6047" stop-color="#f21d00"/>
<stop offset="0.6057" stop-color="#f11f00"/>
<stop offset="0.6067" stop-color="#f12200"/>
<stop offset="0.6077" stop-color="#f12500"/>
<stop offset="0.6087" stop-color="#f02800"/>
<stop offset="0.6097" stop-color="#f02a00"/>
<stop offset="0.6107" stop-color="#f02d00"/>
<stop offset="0.6117" stop-color="#ef3000"/>
<stop offset="0.6126" stop-color="#ef3300"/>
<stop offset="0.6136" stop-color="#ef3600"/>
<stop offset="0.6146" stop-color="#ee3900"/>
<stop offset="0.6156" stop-color="#ee3c00"/>
<stop offset="0.6166" stop-color="#ee3f00"/>
<stop offset="0.6176" stop-color="#ed4200"/>
<stop offset="0.6186" stop-color="#ed4500"/>
<stop offset="0.6196" stop-color="#ed4800"/>
<stop offset="0.6206" stop-color="#ec4b00"/>
<stop offset="0.6215" stop-color="#ec4f00"/>
<stop offset="0.6225" stop-color="#ec5200"/>
<stop offset="0.6235" stop-color="#eb5500"/>
<stop offset="0.6245" stop-color="#eb5800"/>
<stop offset="0.6255" stop-color="#eb5c00"/>
<stop offset="0.6265" stop-color="#ea5f00"/>
<stop offset="0.6275" stop-color="#ea6200"/>
<stop offset="0.6285" stop-color="#e96600"/>
<stop offset="0.6294" stop-color="#e96900"/>
<stop offset="0.6304" stop-color="#e96c00"/>
<stop offset="0.6314" stop-color="#e87000"/>
<stop offset="0.6324" stop-color="#e87300"/>
<stop offset="0.6334" stop-color="#e77700"/>
<stop offset="0.6344" stop-color="#e77a00"/>
<stop offset="0.6354" stop-color="#e77e00"/>
<stop offset="0.6364" stop-color="#e68100"/>
<stop offset="0.6374" stop-color="#e68500"/>
<stop offset="0.6383" stop-color="#e58800"/>
<stop offset="0.6393" stop-color="#e58c00"/>
<stop offset="0.6403" stop-color="#e59000"/>
<stop offset="0.6413" stop-color="#e49300"/>
<stop offset="0.6423" stop-color="#e49700"/>
<stop offset="0.6433" stop-color="#e39b00"/>
<stop offset="0.6443" stop-color="#e39e00"/>
<stop offset="0.6453" stop-color="#e2a200"/>
<stop offset="0.6462" stop-color="#e2a600"/>
<stop offset="0.6472" stop-color="#e2a900"/>
<stop offset="0.6482" stop-color="#e1ad00"/>
<stop offset="0.6492" stop-color="#e1af01"/>
<stop offset="0.6502" stop-color="#e1b002"/>
<stop offset="0.6512" stop-color="#e2b103"/>
<stop offset="0.6522" stop-color="#e2b204"/>
<stop offset="0.6532" stop-color="#e2b205"/>
<stop offset="0.6542" stop-color="#e2b306"/>
<stop offset="0.6551" stop-color="#e3b407"/>
<stop offset="0.6561" stop-color="#e3b508"/>
<stop offset="0.6571" stop-color="#e3b509"/>
<stop offset="0.6581" stop-color="#e3b60a"/>
<stop offset="0.6591" stop-color="#e4b70c"/>
<stop offset="0.6601" stop-color="#e4b80d"/>
<stop offset="0.6611" stop-color="#e4b90e"/>
<stop offset="0.6621" stop-color="#e5b90f"/>
<stop offset="0.6630" stop-color="#e5ba10"/>
<stop offset="0.6640" stop-color="#e5bb11"/>
<stop offset="0.6650" stop-color="#e5bb12"/>
<stop offset="0.6660" stop-color="#e6bc13"/>
<stop offset="0.6670" stop-color="#e6bd14"/>
<stop offset="0.6680" stop-color="#e6be15"/>
<stop offset="0.6690" stop-color="#e6be16"/>
<stop offset="0.6700" stop-color="#e7bf17"/>
<stop offset="0.6709" stop-color="#e7c018"/>
<stop offset="0.6719" stop-color="#e7c119"/>
<stop offset="0.6729" stop-color="#e7c11a"/>
<stop offset="0.6739" stop-color="#e8c21b"/>
<stop offset="0.6749" stop-color="#e8c31c"/>
<stop offset="0.6759" stop-color="#e8c31d"/>
<stop offset="0.6769" stop-color="#e8c41e"/>
<stop offset="0.6779" stop-color="#e8c51f"/>
<stop offset="0.6789" stop-color="#e9c520"/>
<stop offset="0.6798" stop-color="#e9c621"/>
<stop offset="0.6808" stop-color="#e9c722"/>
<stop offset="0.6818" stop-color="#e9c723"/>
<stop offset="0.6828" stop-color="#eac824"/>
<stop offset="0.6838" stop-color="#eac825"/>
<stop offset="0.6848" stop-color="#eac926"/>
<stop offset="0.6858" stop-color="#eaca27"/>
<stop offset="0.6868" stop-color="#eaca27"/>
<stop offset="0.6877" stop-color="#ebcb28"/>
<stop offset="0.6887" stop-color="#ebcb29"/>
<stop offset="0.6897" stop-color="#ebcc2a"/>
<stop offset="0.6907" stop-color="#e9cc2d"/>
<stop offset="0.6917" stop-color="#e7cb30"/>
<stop offset="0.6927" stop-color="#e5cb33"/>
<stop offset="0.6937" stop-color="#e2ca36"/>
<stop offset="0.6947" stop-color="#e0ca38"/>
<stop offset="0.6957" stop-color="#deca3b"/>
<stop offset="0.6966" stop-color="#dcc93e"/>
<stop offset="0.6976" stop-color="#dac940"/>
<stop offset="0.6986" stop-color="#d8c943"/>
<stop offset="0.6996" stop-color="#d6c846"/>
<stop offset="0.7006" stop-color="#d5c848"/>
<stop offset="0.7016" stop-color="#d3c84b"/>
<stop offset="0.7026" stop-color="#d1c74d"/>
<stop offset="0.7036" stop-color="#cfc750"/>
<stop offset="0.7045" stop-color="#cdc752"/>
<stop offset="0.7055" stop-color="#ccc654"/>
<stop offset="0.7065" stop-color="#cac657"/>
<stop offset="0.7075" stop-color="#c8c659"/>
<stop offset="0.7085" stop-color="#c7c55b"/>
<stop offset="0.7095" stop-color="#c5c55d"/>
<stop offset="0.7105" stop-color="#c3c55f"/>
<stop offset="0.7115" stop-color="#c2c461"/>
<stop offset="0.7125" stop-color="#c0c463"/>
<stop offset="0.7134" stop-color="#bfc465"/>
<stop offset="0.7144" stop-color="#bdc467"/>
<stop offset="0.7154" stop-color="#bcc369"/>
<stop offset="0.7164" stop-color="#bbc36b"/>
<stop offset="0.7174" stop-color="#b9c36d"/>
<stop offset="0.7184" stop-color="#b8c36f"/>
<stop offset="0.7194" stop-color="#b7c270"/>
<stop offset="0.7204" stop-color="#b5c272"/>
<stop offset="0.7213" stop-color="#b4c274"/>
<stop offset="0.7223" stop-color="#b3c275"/>
<stop offset="0.7233" stop-color="#b2c277"/>
<stop offset="0.7243" stop-color="#b1c178"/>
<stop offset="0.7253" stop-color="#b0c17a"/>
<stop offset="0.7263" stop-color="#afc17b"/>
<stop offset="0.7273" stop-color="#aec17d"/>
<stop offset="0.7283" stop-color="#adc17e"/>
<stop offset="0.7292" stop-color="#acc07f"/>
<stop offset="0.7302" stop-color="#abc081"/>
<stop offset="0.7312" stop-color="#aac082"/>
<stop offset="0.7322" stop-color="#a9c083"/>
<stop offset="0.7332" stop-color="#a8c084"/>
<stop offset="0.7342" stop-color="#a7c086"/>
<stop offset="0.7352" stop-color="#a6bf87"/>
<stop offset="0.7362" stop-color="#a5bf88"/>
<stop offset="0.7372" stop-color="#a4bf89"/>
<stop offset="0.7381" stop-color="#a4bf8a"/>
<stop offset="0.7391" stop-color="#a3bf8b"/>
<stop offset="0.7401" stop-color="#a2bf8c"/>
<stop offset="0.7411" stop-color="#a1bf8d"/>
<stop offset="0.7421" stop-color="#a1be8e"/>
<stop offset="0.7431" stop-color="#a0be8f"/>
<stop offset="0.7441" stop-color="#9fbe90"/>
<stop offset="0.7451" stop-color="#9fbe91"/>
<stop offset="0.7460" stop-color="#9ebe92"/>
<stop offset="0.7470" stop-color="#9dbe93"/>
<stop offset="0.7480" stop-color="#9dbe94"/>
<stop offset="0.7490" stop-color="#9cbe95"/>
<stop offset="0.7500" stop-color="#9bbd95"/>
<stop offset="0.7510" stop-color="#9bbd96"/>
<stop offset="0.7520" stop-color="#9abd97"/>
<stop offset="0.7530" stop-color="#99bd98"/>
<stop offset="0.7540" stop-color="#99bd99"/>
<stop offset="0.7549" stop-color="#98bd9a"/>
<stop offset="0.7559" stop-color="#98bd9a"/>
<stop offset="0.7569" stop-color="#97bd9b"/>
<stop offset="0.7579" stop-color="#96bd9c"/>
<stop offset="0.7589" stop-color="#96bc9d"/>
<stop offset="0.7599" stop-color="#95bc9e"/>
<stop offset="0.7609" stop-color="#95bc9e"/>
<stop offset="0.7619" stop-color="#94bc9f"/>
<stop offset="0.7628" stop-color="#93bca0"/>
<stop offset="0.7638" stop-color="#93bca1"/>
<stop offset="0.7648" stop-color="#92bca2"/>
<stop offset="0.7658" stop-color="#92bca2"/>
<stop offset="0.7668" stop-color="#91bca3"/>
<stop offset="0.7678" stop-color="#91bba4"/>
<stop offset="0.7688" stop-color="#90bba5"/>
<stop offset="0.7698" stop-color="#8fbba5"/>
<stop offset="0.7708" stop-color="#8fbba6"/>
<stop offset="0.7717" stop-color="#8ebba7"/>
<stop offset="0.7727" stop-color="#8ebba8"/>
<stop offset="0.7737" stop-color="#8dbba8"/>
<stop offset="0.7747" stop-color="#8dbba9"/>
<stop offset="0.7757" stop-color="#8cbbaa"/>
<stop offset="0.7767" stop-color="#8cbbab"/>
<stop offset="0.7777" stop-color="#8bbaab"/>
<stop offset="0.7787" stop-color="#8bbaac"/>
<stop offset="0.7796" stop-color="#8abaad"/>
<stop offset="0.7806" stop-color="#8abaad"/>
<stop offset="0.7816" stop-color="#89baae"/>
<stop offset="0.7826" stop-color="#89baaf"/>
<stop offset="0.7836" stop-color="#88baaf"/>
<stop offset="0.7846" stop-color="#88bab0"/>
<stop offset="0.7856" stop-color="#87bab1"/>
<stop offset="0.7866" stop-color="#87bab1"/>
<stop offset="0.7875" stop-color="#86bab2"/>
<stop offset="0.7885" stop-color="#86b9b3"/>
<stop offset="0.7895" stop-color="#85b9b3"/>
<stop offset="0.7905" stop-color="#85b9b4"/>
<stop offset="0.7915" stop-color="#84b9b5"/>
<stop offset="0.7925" stop-color="#84b9b5"/>
<stop offset="0.7935" stop-color="#83b9b6"/>
<stop offset="0.7945" stop-color="#83b9b6"/>
<stop offset="0.7955" stop-color="#82b9b7"/>
<stop offset="0.7964" stop-color="#82b9b8"/>
<stop offset="0.7974" stop-color="#81b9b8"/>
<stop offset="0.7984" stop-color="#81b9b9"/>
<stop offset="0.7994" stop-color="#81b9ba"/>
<stop offset="0.8004" stop-color="#80b8ba"/>
<stop offset="0.8014" stop-color="#80b8bb"/>
<stop offset="0.8024" stop-color="#7fb8bb"/>
<stop offset="0.8034" stop-color="#7fb8bc"/>
<stop offset="0.8043" stop-color="#7eb8bd"/>
<stop offset="0.8053" stop-color="#7eb8bd"/>
<stop offset="0.8063" stop-color="#7db8be"/>
<stop offset="0.8073" stop-color="#7db8be"/>
<stop offset="0.8083" stop-color="#7cb8bf"/>
<stop offset="0.8093" stop-color="#7cb8c0"/>
<stop offset="0.8103" stop-color="#7bb8c0"/>
<stop offset="0.8113" stop-color="#7bb8c1"/>
<stop offset="0.8123" stop-color="#7ab7c2"/>
<stop offset="0.8132" stop-color="#7ab7c2"/>
<stop offset="0.8142" stop-color="#79b7c3"/>
<stop offset="0.8152" stop-color="#79b7c4"/>
<stop offset="0.8162" stop-color="#78b7c5"/>
<stop offset="0.8172" stop-color="#78b7c5"/>
<stop offset="0.8182" stop-color="#78b7c5"/>
<stop offset="0.8192" stop-color="#77b7c5"/>
<stop offset="0.8202" stop-color="#77b7c5"/>
<stop offset="0.8211" stop-color="#77b6c5"/>
<stop offset="0.8221" stop-color="#76b6c4"/>
<stop offset="0.8231" stop-color="#76b6c4"/>
<stop offset="0.8241" stop-color="#76b6c4"/>
<stop offset="0.8251" stop-color="#75b6c4"/>
<stop offset="0.8261" stop-color="#75b6c4"/>
<stop offset="0.8271" stop-color="#75b5c4"/>
<stop offset="0.8281" stop-color="#74b5c4"/>
<stop offset="0.8291" stop-color="#74b5c4"/>
<stop offset="0.8300" stop-color="#74b5c4"/>
<stop offset="0.8310" stop-color="#73b5c3"/>
<stop offset="0.8320" stop-color="#73b4c3"/>
<stop offset="0.8330" stop-color="#72b4c3"/>
<stop offset="0.8340" stop-color="#72b4c3"/>
<stop offset="0.8350" stop-color="#71b4c3"/>
<stop offset="0.8360" stop-color="#71b4c3"/>
<stop offset="0.8370" stop-color="#71b3c3"/>
<stop offset="0.8379" stop-color="#70b3c3"/>
<stop offset="0.8389" stop-color="#70b3c2"/>
<stop offset="0.8399" stop-color="#6fb3c2"/>
<stop offset="0.8409" stop-color="#6fb3c2"/>
<stop offset="0.8419" stop-color="#6eb2c2"/>
<stop offset="0.8429" stop-color="#6eb2c2"/>
<stop offset="0.8439" stop-color="#6db2c2"/>
<stop offset="0.8449" stop-color="#6db2c2"/>
<stop offset="0.8458" stop-color="#6cb1c1"/>
<stop offset="0.8468" stop-color="#6cb1c1"/>
<stop offset="0.8478" stop-color="#6bb1c1"/>
<stop offset="0.8488" stop-color="#6bb1c1"/>
<stop offset="0.8498" stop-color="#6ab0c1"/>
<stop offset="0.8508" stop-color="#6ab0c1"/>
<stop offset="0.8518" stop-color="#69b0c0"/>
<stop offset="0.8528" stop-color="#68b0c0"/>
<stop offset="0.8538" stop-color="#68afc0"/>
<stop offset="0.8547" stop-color="#67afc0"/>
<stop offset="0.8557" stop-color="#67afc0"/>
<stop offset="0.8567" stop-color="#66aebf"/>
<stop offset="0.8577" stop-color="#66aebf"/>
<stop offset="0.8587" stop-color="#65aebf"/>
<stop offset="0.8597" stop-color="#64aebf"/>
<stop offset="0.8607" stop-color="#64adbf"/>
<stop offset="0.8617" stop-color="#63adbe"/>
<stop offset="0.8626" stop-color="#62adbe"/>
<stop offset="0.8636" stop-color="#62acbe"/>
<stop offset="0.8646" stop-color="#61acbe"/>
<stop offset="0.8656" stop-color="#61acbe"/>
<stop offset="0.8666" stop-color="#60acbe"/>
<stop offset="0.8676" stop-color="#5fabbd"/>
<stop offset="0.8686" stop-color="#5fabbd"/>
<stop offset="0.8696" stop-color="#5eabbd"/>
<stop offset="0.8706" stop-color="#5eaabd"/>
<stop offset="0.8715" stop-color="#5daabd"/>
<stop offset="0.8725" stop-color="#5caabc"/>
<stop offset="0.8735" stop-color="#5caabc"/>
<stop offset="0.8745" stop-color="#5ba9bc"/>
<stop offset="0.8755" stop-color="#5aa9bc"/>
<stop offset="0.8765" stop-color="#5aa9bc"/>
<stop offset="0.8775" stop-color="#59a8bb"/>
<stop offset="0.8785" stop-color="#59a8bb"/>
<stop offset="0.8794" stop-color="#58a8bb"/>
<stop offset="0.8804" stop-color="#57a7bb"/>
<stop offset="0.8814" stop-color="#57a7bb"/>
<stop offset="0.8824" stop-color="#56a7ba"/>
<stop offset="0.8834" stop-color="#56a7ba"/>
<stop offset="0.8844" stop-color="#55a6ba"/>
<stop offset="0.8854" stop-color="#54a6ba"/>
<stop offset="0.8864" stop-color="#54a6ba"/>
<stop offset="0.8874" stop-color="#53a5ba"/>
<stop offset="0.8883" stop-color="#53a5b9"/>
<stop offset="0.8893" stop-color="#52a5b9"/>
<stop offset="0.8903" stop-color="#51a5b9"/>
<stop offset="0.8913" stop-color="#51a4b9"/>
<stop offset="0.8923" stop-color="#50a4b9"/>
<stop offset="0.8933" stop-color="#50a4b8"/>
<stop offset="0.8943" stop-color="#4fa4b8"/>
<stop offset="0.8953" stop-color="#4fa3b8"/>
<stop offset="0.8962" stop-color="#4ea3b8"/>
<stop offset="0.8972" stop-color="#4da3b8"/>
<stop offset="0.8982" stop-color="#4da3b8"/>
<stop offset="0.8992" stop-color="#4ca2b7"/>
<stop offset="0.9002" stop-color="#4ca2b7"/>
<stop offset="0.9012" stop-color="#4ba2b7"/>
<stop offset="0.9022" stop-color="#4ba2b7"/>
<stop offset="0.9032" stop-color="#4aa1b7"/>
<stop offset="0.9042" stop-color="#4aa1b7"/>
<stop offset="0.9051" stop-color="#49a1b6"/>
<stop offset="0.9061" stop-color="#49a1b6"/>
<stop offset="0.9071" stop-color="#48a0b6"/>
<stop offset="0.9081" stop-color="#48a0b6"/>
<stop offset="0.9091" stop-color="#47a0b6"/>
<stop offset="0.9101" stop-color="#47a0b6"/>
<stop offset="0.9111" stop-color="#469fb6"/>
<stop offset="0.9121" stop-color="#469fb5"/>
<stop offset="0.9130" stop-color="#469fb5"/>
<stop offset="0.9140" stop-color="#459fb5"/>
<stop offset="0.9150" stop-color="#459fb5"/>
<stop offset="0.9160" stop-color="#449eb5"/>
<stop offset="0.9170" stop-color="#449eb5"/>
<stop offset="0.9180" stop-color="#439eb5"/>
<stop offset="0.9190" stop-color="#439eb5"/>
<stop offset="0.9200" stop-color="#439eb4"/>
<stop offset="0.9209" stop-color="#429db4"/>
<stop offset="0.9219" stop-color="#429db4"/>
<stop offset="0.9229" stop-color="#429db4"/>
<stop offset="0.9239" stop-color="#419db4"/>
<stop offset="0.9249" stop-color="#419db4"/>
<stop offset="0.9259" stop-color="#419db4"/>
<stop offset="0.9269" stop-color="#409db4"/>
<stop offset="0.9279" stop-color="#409cb4"/>
<stop offset="0.9289" stop-color="#409cb3"/>
<stop offset="0.9298" stop-color="#409cb3"/>
<stop offset="0.9308" stop-color="#3f9cb3"/>
<stop offset="0.9318" stop-color="#3f9cb3"/>
<stop offset="0.9328" stop-color="#3f9cb3"/>
<stop offset="0.9338" stop-color="#3f9cb3"/>
<stop offset="0.9348" stop-color="#3e9cb3"/>
<stop offset="0.9358" stop-color="#3e9bb3"/>
<stop offset="0.9368" stop-color="#3e9bb3"/>
<stop offset="0.9377" stop-color="#3e9bb3"/>
<stop offset="0.9387" stop-color="#3e9bb3"/>
<stop offset="0.9397" stop-color="#3d9bb3"/>
<stop offset="0.9407" stop-color="#3d9bb3"/>
<stop offset="0.9417" stop-color="#3d9bb3"/>
<stop offset="0.9427" stop-color="#3d9bb3"/>
<stop offset="0.9437" stop-color="#3d9bb3"/>
<stop offset="0.9447" stop-color="#3d9bb2"/>
<stop offset="0.9457" stop-color="#3c9bb2"/>
<stop offset="0.9466" stop-color="#3c9bb2"/>
<stop offset="0.9476" stop-color="#3c9bb2"/>
<stop offset="0.9486" stop-color="#3c9bb2"/>
<stop offset="0.9496" stop-color="#3c9ab2"/>
<stop offset="0.9506" stop-color="#3c9ab2"/>
<stop offset="0.9516" stop-color="#3c9ab2"/>
<stop offset="0.9526" stop-color="#3c9ab2"/>
<stop offset="0.9536" stop-color="#3c9ab2"/>
<stop offset="0.9545" stop-color="#3c9ab2"/>
<stop offset="0.9555" stop-color="#3c9ab2"/>
<stop offset="0.9565" stop-color="#3c9ab2"/>
<stop offset="0.9575" stop-color="#3b9ab2"/>
<stop offset="0.9585" stop-color="#3b9ab2"/>
<stop offset="0.9595" stop-color="#3b9ab2"/>
<stop offset="0.9605" stop-color="#3b9ab2"/>
<stop offset="0.9615" stop-color="#3b9ab2"/>
<stop offset="0.9625" stop-color="#3b9ab2"/>
<stop offset="0.9634" stop-color="#3b9ab2"/>
<stop offset="0.9644" stop-color="#3b9ab2"/>
<stop offset="0.9654" stop-color="#3b9ab2"/>
<stop offset="0.9664" stop-color="#3b9ab2"/>
<stop offset="0.9674" stop-color="#3b9ab2"/>
<stop offset="0.9684" stop-color="#3b9ab2"/>
<stop offset="0.9694" stop-color="#3b9ab2"/>
<stop offset="0.9704" stop-color="#3b9ab2"/>
<stop offset="0.9713" stop-color="#3b9ab2"/>
<stop offset="0.9723" stop-color="#3b9ab2"/>
<stop offset="0.9733" stop-color="#3b9ab2"/>
<stop offset="0.9743" stop-color="#3b9ab2"/>
<stop offset="0.9753" stop-color="#3b9ab2"/>
<stop offset="0.9763" stop-color="#3b9ab2"/>
<stop offset="0.9773" stop-color="#3b9ab2"/>
<stop offset="0.9783" stop-color="#3b9ab2"/>
<stop offset="0.9792" stop-color="#3b9ab2"/>
<stop offset="0.9802" stop-color="#3b9ab2"/>
<stop offset="0.9812" stop-color="#3b9ab2"/>
<stop offset="0.9822" stop-color="#3b9ab2"/>
<stop offset="0.9832" stop-color="#3b9ab2"/>
<stop offset="0.9842" stop-color="#3b9ab2"/>
<stop offset="0.9852" stop-color="#3b9ab2"/>
<stop offset="0.9862" stop-color="#3b9ab2"/>
<stop offset="0.9872" stop-color="#3b9ab2"/>
<stop offset="0.9881" stop-color="#3b9ab2"/>
<stop offset="0.9891" stop-color="#3b9ab2"/>
<stop offset="0.9901" stop-color="#3b9ab2"/>
<stop offset="0.9911" stop-color="#3b9ab2"/>
<stop offset="0.9921" stop-color="#3b9ab2"/>
<stop offset="0.9931" stop-color="#3b9ab2"/>
<stop offset="0.9941" stop-color="#3b9ab2"/>
<stop offset="0.9951" stop-color="#3b9ab2"/>
<stop offset="0.9960" stop-color="#3b9ab2"/>
<stop offset="0.9970" stop-color="#3b9ab2"/>
<stop offset="0.9980" stop-color="#3b9ab2"/>
<stop offset="0.9990" stop-color="#3b9ab2"/>
<stop offset="1.0000" stop-color="#3b9ab2"/>
</linearGradient></defs>
<rect x="0" y="0" width="2400" height="1808" fill="#f2dfce"/>

<rect x="0" y="0" width="159.0" height="8.0" fill="#000"/>
<clipPath id="panel"><rect x="0" y="247.80" width="2400" height="1270.20"/></clipPath>
<g clip-path="url(#panel)">
<path d="M214.9 1517.0L215.9 1516.8L216.9 1516.7L217.9 1516.7L218.9 1516.7L219.9 1516.7L220.9 1516.6L221.9 1516.6L222.9 1516.6L223.9 1516.5L224.9 1516.5L225.9 1516.4L226.9 1516.4L227.9 1516.3L228.9 1516.2L229.9 1516.2L230.9 1516.1L231.9 1516.0L232.9 1515.9L233.9 1515.8L234.9 1515.7L235.9 1515.6L236.9 1515.5L237.9 1515.4L238.9 1515.2L239.9 1515.1L240.9 1514.9L241.9 1514.7L242.9 1514.6L243.9 1514.4L244.9 1514.2L245.9 1514.0L246.9 1513.7L247.9 1513.5L248.9 1513.2L249.9 1513.0L250.9 1512.7L251.9 1512.4L252.9 1512.1L253.9 1511.7L254.9 1511.4L255.9 1511.0L256.9 1510.6L257.9 1510.2L258.9 1509.7L259.9 1509.3L260.9 1508.8L261.9 1508.3L262.9 1507.7L263.9 1507.2L264.9 1506.6L265.9 1505.9L266.9 1505.3L267.9 1504.6L268.9 1503.9L269.9 1503.2L270.9 1502.4L271.9 1501.6L272.9 1500.7L273.9 1499.9L274.9 1499.0L275.9 1498.0L276.9 1497.0L277.9 1496.0L278.9 1494.9L279.9 1493.8L280.9 1492.7L281.9 1491.5L282.9 1490.3L283.9 1489.0L284.9 1487.7L285.9 1486.3L286.9 1484.9L287.9 1483.4L288.9 1481.9L289.9 1480.4L290.9 1478.8L291.9 1477.1L292.9 1475.4L293.9 1473.7L294.9 1471.9L295.9 1470.0L296.9 1468.1L297.9 1466.2L298.9 1464.2L299.9 1462.2L300.9 1460.1L301.9 1457.9L302.9 1455.7L303.9 1453.5L304.9 1451.2L305.9 1448.9L306.9 1446.5L307.9 1444.1L308.9 1441.6L309.9 1439.1L310.9 1436.6L311.9 1434.0L312.9 1431.4L313.9 1428.7L314.9 1426.0L315.9 1423.3L316.9 1420.5L317.9 1417.7L318.9 1414.9L319.9 1412.1L320.9 1409.2L321.9 1406.3L322.9 1403.4L323.9 1400.5L324.9 1397.5L325.9 1394.6L326.9 1391.6L327.9 1388.7L328.9 1385.7L329.9 1382.7L330.9 1379.7L331.9 1376.8L332.9 1373.8L333.9 1370.9L334.9 1367.9L335.9 1365.0L336.9 1362.1L337.9 1359.2L338.9 1356.3L339.9 1353.4L340.9 1350.6L341.9 1347.8L342.9 1345.0L343.9 1342.2L344.9 1339.5L345.9 1336.8L346.9 1334.2L347.9 1331.6L348.9 1329.0L349.9 1326.5L350.9 1324.0L351.9 1321.5L352.9 1319.1L353.9 1316.8L354.9 1314.5L355.9 1312.2L356.9 1310.0L357.9 1307.9L358.9 1305.8L359.9 1303.8L360.9 1301.8L361.9 1299.9L362.9 1298.0L363.9 1296.2L364.9 1294.5L365.9 1292.8L366.9 1291.2L367.9 1289.6L368.9 1288.1L369.9 1286.7L370.9 1285.3L371.9 1284.0L372.9 1282.8L373.9 1281.6L374.9 1280.5L375.9 1279.4L376.9 1278.4L377.9 1277.5L378.9 1276.7L379.9 1275.8L380.9 1275.1L381.9 1274.4L382.9 1273.8L383.9 1273.2L384.9 1272.7L385.9 1272.2L386.9 1271.8L387.9 1271.5L388.9 1271.2L389.9 1270.9L390.9 1270.7L391.9 1270.5L392.9 1270.4L393.9 1270.3L394.9 1270.2L395.9 1270.2L396.9 1270.3L397.9 1270.3L398.9 1270.4L399.9 1270.5L400.9 1270.7L401.9 1270.8L402.9 1271.0L403.9 1271.2L404.9 1271.5L405.9 1271.7L406.9 1272.0L407.9 1272.2L408.9 1272.5L409.9 1272.8L410.9 1273.1L411.9 1273.4L412.9 1273.7L413.9 1274.0L414.9 1274.3L415.9 1274.6L416.9 1274.9L417.9 1275.3L418.9 1275.6L419.9 1275.9L420.9 1276.2L421.9 1276.4L422.9 1276.7L423.9 1277.0L424.9 1277.3L425.9 1277.5L426.9 1277.8L427.9 1278.0L428.9 1278.3L429.9 1278.5L430.9 1278.7L431.9 1278.9L432.9 1279.1L433.9 1279.3L434.9 1279.5L435.9 1279.6L436.9 1279.8L437.9 1280.0L438.9 1280.1L439.9 1280.3L440.9 1280.4L441.9 1280.5L442.9 1280.7L443.9 1280.8L444.9 1280.9L445.9 1281.0L446.9 1281.2L447.9 1281.3L448.9 1281.4L449.9 1281.6L450.9 1281.7L451.9 1281.8L452.9 1282.0L453.9 1282.1L454.9 1282.3L455.9 1282.5L456.9 1282.7L457.9 1282.9L458.9 1283.1L459.9 1283.3L460.9 1283.6L461.9 1283.8L462.9 1284.1L463.9 1284.4L464.9 1284.7L465.9 1285.0L466.9 1285.4L467.9 1285.7L468.9 1286.1L469.9 1286.5L470.9 1287.0L471.9 1287.4L472.9 1287.9L473.9 1288.4L474.9 1288.9L475.9 1289.4L476.9 1290.0L477.9 1290.6L478.9 1291.2L479.9 1291.8L480.9 1292.4L481.9 1293.1L482.9 1293.7L483.9 1294.4L484.9 1295.1L485.9 1295.8L486.9 1296.6L487.9 1297.3L488.9 1298.1L489.9 1298.8L490.9 1299.6L491.9 1300.4L492.9 1301.2L493.9 1302.0L494.9 1302.8L495.9 1303.6L496.9 1304.4L497.9 1305.2L498.9 1306.0L499.9 1306.8L500.9 1307.7L501.9 1308.5L502.9 1309.3L503.9 1310.1L504.9 1310.9L505.9 1311.7L506.9 1312.5L507.9 1313.3L508.9 1314.1L509.9 1314.9L510.9 1315.6L511.9 1316.4L512.9 1317.1L513.9 1317.9L514.9 1318.6L515.9 1319.3L516.9 1320.0L517.9 1320.7L518.9 1321.3L519.9 1322.0L520.9 1322.6L521.9 1323.2L522.9 1323.8L523.9 1324.3L524.9 1324.9L525.9 1325.4L526.9 1325.9L527.9 1326.4L528.9 1326.8L529.9 1327.2L530.9 1327.6L531.9 1328.0L532.9 1328.4L533.9 1328.7L534.9 1329.0L535.9 1329.3L536.9 1329.5L537.9 1329.7L538.9 1329.9L539.9 1330.1L540.9 1330.2L541.9 1330.4L542.9 1330.4L543.9 1330.5L544.9 1330.6L545.9 1330.6L546.9 1330.6L547.9 1330.5L548.9 1330.5L549.9 1330.4L550.9 1330.3L551.9 1330.2L552.9 1330.1L553.9 1330.0L554.9 1329.8L555.9 1329.7L556.9 1329.5L557.9 1329.3L558.9 1329.1L559.9 1328.9L560.9 1328.7L561.9 1328.4L562.9 1328.2L563.9 1328.0L564.9 1327.7L565.9 1327.5L566.9 1327.3L567.9 1327.0L568.9 1326.8L569.9 1326.5L570.9 1326.3L571.9 1326.1L572.9 1325.9L573.9 1325.6L574.9 1325.4L575.9 1325.2L576.9 1325.0L577.9 1324.8L578.9 1324.7L579.9 1324.5L580.9 1324.3L581.9 1324.2L582.9 1324.1L583.9 1323.9L584.9 1323.8L585.9 1323.8L586.9 1323.7L587.9 1323.6L588.9 1323.6L589.9 1323.6L590.9 1323.6L591.9 1323.6L592.9 1323.6L593.9 1323.7L594.9 1323.8L595.9 1323.9L596.9 1324.0L597.9 1324.1L598.9 1324.3L599.9 1324.5L600.9 1324.7L601.9 1325.0L602.9 1325.2L603.9 1325.5L604.9 1325.9L605.9 1326.2L606.9 1326.6L607.9 1327.0L608.9 1327.4L609.9 1327.9L610.9 1328.3L611.9 1328.8L612.9 1329.4L613.9 1329.9L614.9 1330.5L615.9 1331.1L616.9 1331.7L617.9 1332.3L618.9 1333.0L619.9 1333.7L620.9 1334.4L621.9 1335.1L622.9 1335.9L623.9 1336.6L624.9 1337.4L625.9 1338.1L626.9 1338.9L627.9 1339.7L628.9 1340.5L629.9 1341.3L630.9 1342.2L631.9 1343.0L632.9 1343.8L633.9 1344.6L634.9 1345.5L635.9 1346.3L636.9 1347.1L637.9 1348.0L638.9 1348.8L639.9 1349.6L640.9 1350.4L641.9 1351.2L642.9 1352.0L643.9 1352.8L644.9 1353.6L645.9 1354.4L646.9 1355.2L647.9 1355.9L648.9 1356.7L649.9 1357.4L650.9 1358.2L651.9 1358.9L652.9 1359.6L653.9 1360.3L654.9 1361.0L655.9 1361.7L656.9 1362.4L657.9 1363.0L658.9 1363.7L659.9 1364.3L660.9 1365.0L661.9 1365.6L662.9 1366.2L663.9 1366.8L664.9 1367.4L665.9 1368.0L666.9 1368.5L667.9 1369.1L668.9 1369.6L669.9 1370.2L670.9 1370.7L671.9 1371.2L672.9 1371.7L673.9 1372.2L674.9 1372.7L675.9 1373.1L676.9 1373.6L677.9 1374.0L678.9 1374.5L679.9 1374.9L680.9 1375.3L681.9 1375.7L682.9 1376.0L683.9 1376.4L684.9 1376.7L685.9 1377.1L686.9 1377.4L687.9 1377.7L688.9 1378.0L689.9 1378.2L690.9 1378.5L691.9 1378.7L692.9 1379.0L693.9 1379.2L694.9 1379.4L695.9 1379.6L696.9 1379.8L697.9 1380.0L698.9 1380.1L699.9 1380.3L700.9 1380.4L701.9 1380.5L702.9 1380.7L703.9 1380.8L704.9 1380.9L705.9 1381.0L706.9 1381.1L707.9 1381.2L708.9 1381.3L709.9 1381.3L710.9 1381.4L711.9 1381.5L712.9 1381.5L713.9 1381.6L714.9 1381.7L715.9 1381.7L716.9 1381.7L717.9 1381.8L718.9 1381.8L719.9 1381.8L720.9 1381.9L721.9 1381.9L722.9 1381.9L723.9 1381.9L724.9 1381.9L725.9 1381.9L726.9 1381.9L727.9 1381.9L728.9 1381.8L729.9 1381.8L730.9 1381.8L731.9 1381.7L732.9 1381.7L733.9 1381.6L734.9 1381.5L735.9 1381.5L736.9 1381.4L737.9 1381.3L738.9 1381.2L739.9 1381.1L740.9 1380.9L741.9 1380.8L742.9 1380.7L743.9 1380.5L744.9 1380.4L745.9 1380.2L746.9 1380.0L747.9 1379.8L748.9 1379.6L749.9 1379.4L750.9 1379.2L751.9 1378.9L752.9 1378.7L753.9 1378.5L754.9 1378.2L755.9 1377.9L756.9 1377.7L757.9 1377.4L758.9 1377.1L759.9 1376.8L760.9 1376.5L761.9 1376.1L762.9 1375.8L763.9 1375.5L764.9 1375.1L765.9 1374.8L766.9 1374.4L767.9 1374.0L768.9 1373.7L769.9 1373.3L770.9 1372.9L771.9 1372.5L772.9 1372.1L773.9 1371.7L774.9 1371.3L775.9 1370.9L776.9 1370.4L777.9 1370.0L778.9 1369.6L779.9 1369.1L780.9 1368.7L781.9 1368.3L782.9 1367.8L783.9 1367.4L784.9 1366.9L785.9 1366.5L786.9 1366.0L787.9 1365.6L788.9 1365.1L789.9 1364.7L790.9 1364.2L791.9 1363.8L792.9 1363.4L793.9 1362.9L794.9 1362.5L795.9 1362.1L796.9 1361.6L797.9 1361.2L798.9 1360.8L799.9 1360.4L800.9 1360.0L801.9 1359.6L802.9 1359.2L803.9 1358.9L804.9 1358.5L805.9 1358.1L806.9 1357.8L807.9 1357.4L808.9 1357.1L809.9 1356.8L810.9 1356.5L811.9 1356.2L812.9 1355.9L813.9 1355.6L814.9 1355.3L815.9 1355.0L816.9 1354.8L817.9 1354.5L818.9 1354.3L819.9 1354.1L820.9 1353.9L821.9 1353.7L822.9 1353.5L823.9 1353.3L824.9 1353.1L825.9 1353.0L826.9 1352.8L827.9 1352.7L828.9 1352.6L829.9 1352.5L830.9 1352.4L831.9 1352.3L832.9 1352.2L833.9 1352.1L834.9 1352.1L835.9 1352.1L836.9 1352.0L837.9 1352.0L838.9 1352.0L839.9 1352.0L840.9 1352.0L841.9 1352.0L842.9 1352.0L843.9 1352.1L844.9 1352.1L845.9 1352.2L846.9 1352.3L847.9 1352.4L848.9 1352.5L849.9 1352.6L850.9 1352.7L851.9 1352.8L852.9 1352.9L853.9 1353.1L854.9 1353.2L855.9 1353.4L856.9 1353.5L857.9 1353.7L858.9 1353.9L859.9 1354.1L860.9 1354.2L861.9 1354.4L862.9 1354.7L863.9 1354.9L864.9 1355.1L865.9 1355.3L866.9 1355.5L867.9 1355.8L868.9 1356.0L869.9 1356.2L870.9 1356.5L871.9 1356.7L872.9 1357.0L873.9 1357.2L874.9 1357.5L875.9 1357.7L876.9 1358.0L877.9 1358.3L878.9 1358.5L879.9 1358.8L880.9 1359.1L881.9 1359.3L882.9 1359.6L883.9 1359.9L884.9 1360.2L885.9 1360.4L886.9 1360.7L887.9 1361.0L888.9 1361.2L889.9 1361.5L890.9 1361.7L891.9 1362.0L892.9 1362.3L893.9 1362.5L894.9 1362.7L895.9 1363.0L896.9 1363.2L897.9 1363.4L898.9 1363.7L899.9 1363.9L900.9 1364.1L901.9 1364.3L902.9 1364.5L903.9 1364.7L904.9 1364.8L905.9 1365.0L906.9 1365.2L907.9 1365.3L908.9 1365.5L909.9 1365.6L910.9 1365.7L911.9 1365.8L912.9 1365.9L913.9 1366.0L914.9 1366.1L915.9 1366.2L916.9 1366.3L917.9 1366.4L918.9 1366.4L919.9 1366.5L920.9 1366.5L921.9 1366.5L922.9 1366.6L923.9 1366.6L924.9 1366.6L925.9 1366.6L926.9 1366.6L927.9 1366.6L928.9 1366.6L929.9 1366.5L930.9 1366.5L931.9 1366.4L932.9 1366.4L933.9 1366.3L934.9 1366.2L935.9 1366.2L936.9 1366.1L937.9 1365.9L938.9 1365.8L939.9 1365.7L940.9 1365.5L941.9 1365.3L942.9 1365.2L943.9 1365.0L944.9 1364.7L945.9 1364.5L946.9 1364.2L947.9 1364.0L948.9 1363.7L949.9 1363.3L950.9 1363.0L951.9 1362.6L952.9 1362.2L953.9 1361.8L954.9 1361.4L955.9 1360.9L956.9 1360.4L957.9 1359.9L958.9 1359.3L959.9 1358.7L960.9 1358.1L961.9 1357.5L962.9 1356.8L963.9 1356.1L964.9 1355.4L965.9 1354.7L966.9 1353.9L967.9 1353.1L968.9 1352.3L969.9 1351.4L970.9 1350.6L971.9 1349.7L972.9 1348.7L973.9 1347.8L974.9 1346.8L975.9 1345.8L976.9 1344.8L977.9 1343.8L978.9 1342.7L979.9 1341.6L980.9 1340.5L981.9 1339.4L982.9 1338.3L983.9 1337.1L984.9 1335.9L985.9 1334.7L986.9 1333.5L987.9 1332.3L988.9 1331.0L989.9 1329.7L990.9 1328.4L991.9 1327.1L992.9 1325.8L993.9 1324.4L994.9 1323.1L995.9 1321.7L996.9 1320.3L997.9 1318.9L998.9 1317.4L999.9 1316.0L1000.9 1314.5L1001.9 1313.0L1002.9 1311.5L1003.9 1310.0L1004.9 1308.5L1005.9 1307.0L1006.9 1305.4L1007.9 1303.9L1008.9 1302.3L1009.9 1300.7L1010.9 1299.2L1011.9 1297.6L1012.9 1296.0L1013.9 1294.4L1014.9 1292.8L1015.9 1291.2L1016.9 1289.7L1017.9 1288.1L1018.9 1286.5L1019.9 1284.9L1020.9 1283.4L1021.9 1281.8L1022.9 1280.3L1023.9 1278.8L1024.9 1277.3L1025.9 1275.7L1026.9 1274.3L1027.9 1272.8L1028.9 1271.3L1029.9 1269.9L1030.9 1268.4L1031.9 1267.0L1032.9 1265.6L1033.9 1264.2L1034.9 1262.8L1035.9 1261.4L1036.9 1260.0L1037.9 1258.6L1038.9 1257.2L1039.9 1255.8L1040.9 1254.4L1041.9 1253.0L1042.9 1251.6L1043.9 1250.2L1044.9 1248.7L1045.9 1247.3L1046.9 1245.8L1047.9 1244.3L1048.9 1242.7L1049.9 1241.1L1050.9 1239.5L1051.9 1237.9L1052.9 1236.2L1053.9 1234.4L1054.9 1232.6L1055.9 1230.8L1056.9 1228.9L1057.9 1226.9L1058.9 1224.9L1059.9 1222.8L1060.9 1220.7L1061.9 1218.5L1062.9 1216.2L1063.9 1213.9L1064.9 1211.5L1065.9 1209.0L1066.9 1206.5L1067.9 1203.9L1068.9 1201.2L1069.9 1198.4L1070.9 1195.6L1071.9 1192.8L1072.9 1189.8L1073.9 1186.8L1074.9 1183.7L1075.9 1180.6L1076.9 1177.4L1077.9 1174.1L1078.9 1170.8L1079.9 1167.4L1080.9 1163.9L1081.9 1160.4L1082.9 1156.8L1083.9 1153.2L1084.9 1149.5L1085.9 1145.7L1086.9 1141.9L1087.9 1138.0L1088.9 1134.1L1089.9 1130.1L1090.9 1126.1L1091.9 1121.9L1092.9 1117.8L1093.9 1113.5L1094.9 1109.3L1095.9 1104.9L1096.9 1100.5L1097.9 1096.0L1098.9 1091.5L1099.9 1086.9L1100.9 1082.2L1101.9 1077.4L1102.9 1072.6L1103.9 1067.7L1104.9 1062.8L1105.9 1057.8L1106.9 1052.7L1107.9 1047.6L1108.9 1042.3L1109.9 1037.1L1110.9 1031.7L1111.9 1026.3L1112.9 1020.8L1113.9 1015.3L1114.9 1009.7L1115.9 1004.0L1116.9 998.3L1117.9 992.5L1118.9 986.7L1119.9 980.9L1120.9 975.0L1121.9 969.0L1122.9 963.0L1123.9 957.0L1124.9 951.0L1125.9 944.9L1126.9 938.8L1127.9 932.7L1128.9 926.6L1129.9 920.5L1130.9 914.4L1131.9 908.3L1132.9 902.2L1133.9 896.1L1134.9 890.0L1135.9 884.0L1136.9 877.9L1137.9 871.9L1138.9 866.0L1139.9 860.0L1140.9 854.2L1141.9 848.3L1142.9 842.5L1143.9 836.8L1144.9 831.1L1145.9 825.5L1146.9 820.0L1147.9 814.5L1148.9 809.1L1149.9 803.8L1150.9 798.5L1151.9 793.4L1152.9 788.3L1153.9 783.3L1154.9 778.4L1155.9 773.6L1156.9 768.8L1157.9 764.2L1158.9 759.7L1159.9 755.3L1160.9 751.0L1161.9 746.8L1162.9 742.7L1163.9 738.7L1164.9 734.9L1165.9 731.1L1166.9 727.5L1167.9 724.0L1168.9 720.6L1169.9 717.4L1170.9 714.3L1171.9 711.3L1172.9 708.4L1173.9 705.7L1174.9 703.1L1175.9 700.6L1176.9 698.3L1177.9 696.1L1178.9 694.1L1179.9 692.1L1180.9 690.3L1181.9 688.7L1182.9 687.1L1183.9 685.7L1184.9 684.5L1185.9 683.3L1186.9 682.3L1187.9 681.4L1188.9 680.6L1189.9 680.0L1190.9 679.4L1191.9 679.0L1192.9 678.7L1193.9 678.5L1194.9 678.4L1195.9 678.4L1196.9 678.5L1197.9 678.7L1198.9 679.0L1199.9 679.4L1200.9 679.9L1201.9 680.5L1202.9 681.2L1203.9 681.9L1204.9 682.7L1205.9 683.6L1206.9 684.6L1207.9 685.7L1208.9 686.8L1209.9 688.0L1210.9 689.2L1211.9 690.5L1212.9 691.9L1213.9 693.3L1214.9 694.8L1215.9 696.3L1216.9 697.9L1217.9 699.6L1218.9 701.3L1219.9 703.0L1220.9 704.8L1221.9 706.6L1222.9 708.4L1223.9 710.3L1224.9 712.2L1225.9 714.1L1226.9 716.1L1227.9 718.0L1228.9 720.0L1229.9 722.0L1230.9 724.0L1231.9 726.1L1232.9 728.1L1233.9 730.1L1234.9 732.1L1235.9 734.1L1236.9 736.1L1237.9 738.1L1238.9 740.1L1239.9 742.0L1240.9 744.0L1241.9 745.9L1242.9 747.7L1243.9 749.6L1244.9 751.4L1245.9 753.2L1246.9 754.9L1247.9 756.6L1248.9 758.2L1249.9 759.8L1250.9 761.4L1251.9 762.9L1252.9 764.4L1253.9 765.8L1254.9 767.2L1255.9 768.6L1256.9 769.9L1257.9 771.1L1258.9 772.3L1259.9 773.5L1260.9 774.6L1261.9 775.7L1262.9 776.8L1263.9 777.8L1264.9 778.8L1265.9 779.8L1266.9 780.7L1267.9 781.6L1268.9 782.5L1269.9 783.4L1270.9 784.2L1271.9 785.0L1272.9 785.8L1273.9 786.6L1274.9 787.4L1275.9 788.1L1276.9 788.9L1277.9 789.6L1278.9 790.3L1279.9 791.0L1280.9 791.7L1281.9 792.4L1282.9 793.1L1283.9 793.8L1284.9 794.5L1285.9 795.1L1286.9 795.8L1287.9 796.5L1288.9 797.1L1289.9 797.8L1290.9 798.4L1291.9 799.0L1292.9 799.6L1293.9 800.3L1294.9 800.9L1295.9 801.5L1296.9 802.1L1297.9 802.7L1298.9 803.3L1299.9 803.9L1300.9 804.5L1301.9 805.1L1302.9 805.7L1303.9 806.2L1304.9 806.8L1305.9 807.4L1306.9 808.0L1307.9 808.6L1308.9 809.1L1309.9 809.7L1310.9 810.3L1311.9 810.9L1312.9 811.5L1313.9 812.0L1314.9 812.6L1315.9 813.2L1316.9 813.8L1317.9 814.4L1318.9 815.0L1319.9 815.5L1320.9 816.1L1321.9 816.7L1322.9 817.3L1323.9 817.8L1324.9 818.4L1325.9 819.0L1326.9 819.5L1327.9 820.0L1328.9 820.5L1329.9 821.0L1330.9 821.5L1331.9 822.0L1332.9 822.4L1333.9 822.8L1334.9 823.2L1335.9 823.5L1336.9 823.8L1337.9 824.1L1338.9 824.4L1339.9 824.6L1340.9 824.8L1341.9 824.9L1342.9 825.0L1343.9 825.1L1344.9 825.1L1345.9 825.0L1346.9 824.9L1347.9 824.8L1348.9 824.6L1349.9 824.4L1350.9 824.1L1351.9 823.8L1352.9 823.4L1353.9 823.0L1354.9 822.5L1355.9 822.0L1356.9 821.4L1357.9 820.8L1358.9 820.2L1359.9 819.4L1360.9 818.7L1361.9 817.9L1362.9 817.0L1363.9 816.1L1364.9 815.1L1365.9 814.1L1366.9 813.0L1367.9 811.9L1368.9 810.7L1369.9 809.5L1370.9 808.2L1371.9 806.9L1372.9 805.5L1373.9 804.0L1374.9 802.5L1375.9 801.0L1376.9 799.3L1377.9 797.7L1378.9 795.9L1379.9 794.1L1380.9 792.2L1381.9 790.3L1382.9 788.3L1383.9 786.2L1384.9 784.1L1385.9 781.9L1386.9 779.6L1387.9 777.3L1388.9 774.9L1389.9 772.4L1390.9 769.9L1391.9 767.3L1392.9 764.6L1393.9 761.9L1394.9 759.1L1395.9 756.3L1396.9 753.4L1397.9 750.4L1398.9 747.4L1399.9 744.3L1400.9 741.2L1401.9 738.0L1402.9 734.8L1403.9 731.5L1404.9 728.2L1405.9 724.8L1406.9 721.4L1407.9 717.9L1408.9 714.5L1409.9 710.9L1410.9 707.3L1411.9 703.7L1412.9 700.1L1413.9 696.4L1414.9 692.7L1415.9 688.9L1416.9 685.1L1417.9 681.3L1418.9 677.4L1419.9 673.6L1420.9 669.6L1421.9 665.7L1422.9 661.7L1423.9 657.7L1424.9 653.6L1425.9 649.5L1426.9 645.4L1427.9 641.2L1428.9 637.0L1429.9 632.8L1430.9 628.6L1431.9 624.3L1432.9 619.9L1433.9 615.6L1434.9 611.2L1435.9 606.7L1436.9 602.3L1437.9 597.8L1438.9 593.3L1439.9 588.7L1440.9 584.1L1441.9 579.5L1442.9 574.9L1443.9 570.2L1444.9 565.5L1445.9 560.8L1446.9 556.1L1447.9 551.4L1448.9 546.6L1449.9 541.9L1450.9 537.1L1451.9 532.3L1452.9 527.5L1453.9 522.7L1454.9 517.9L1455.9 513.1L1456.9 508.3L1457.9 503.5L1458.9 498.6L1459.9 493.8L1460.9 489.0L1461.9 484.2L1462.9 479.4L1463.9 474.7L1464.9 469.9L1465.9 465.1L1466.9 460.3L1467.9 455.6L1468.9 450.9L1469.9 446.1L1470.9 441.4L1471.9 436.7L1472.9 432.0L1473.9 427.3L1474.9 422.7L1475.9 418.0L1476.9 413.4L1477.9 408.8L1478.9 404.2L1479.9 399.6L1480.9 395.0L1481.9 390.5L1482.9 386.0L1483.9 381.5L1484.9 377.0L1485.9 372.6L1486.9 368.2L1487.9 363.8L1488.9 359.5L1489.9 355.2L1490.9 350.9L1491.9 346.7L1492.9 342.5L1493.9 338.4L1494.9 334.4L1495.9 330.3L1496.9 326.4L1497.9 322.5L1498.9 318.7L1499.9 314.9L1500.9 311.3L1501.9 307.7L1502.9 304.1L1503.9 300.7L1504.9 297.3L1505.9 294.0L1506.9 290.9L1507.9 287.8L1508.9 284.8L1509.9 281.9L1510.9 279.1L1511.9 276.4L1512.9 273.8L1513.9 271.3L1514.9 269.0L1515.9 266.7L1516.9 264.6L1517.9 262.6L1518.9 260.7L1519.9 258.9L1520.9 257.3L1521.9 255.8L1522.9 254.4L1523.9 253.1L1524.9 252.0L1525.9 251.0L1526.9 250.1L1527.9 249.4L1528.9 248.8L1529.9 248.3L1530.9 248.0L1531.9 247.8L1532.9 247.8L1533.9 247.9L1534.9 248.1L1535.9 248.5L1536.9 249.0L1537.9 249.7L1538.9 250.5L1539.9 251.4L1540.9 252.5L1541.9 253.7L1542.9 255.0L1543.9 256.5L1544.9 258.1L1545.9 259.8L1546.9 261.6L1547.9 263.6L1548.9 265.7L1549.9 267.9L1550.9 270.2L1551.9 272.7L1552.9 275.3L1553.9 277.9L1554.9 280.7L1555.9 283.6L1556.9 286.6L1557.9 289.7L1558.9 292.9L1559.9 296.2L1560.9 299.6L1561.9 303.0L1562.9 306.6L1563.9 310.3L1564.9 314.1L1565.9 317.9L1566.9 321.9L1567.9 325.9L1568.9 330.1L1569.9 334.3L1570.9 338.6L1571.9 343.0L1572.9 347.5L1573.9 352.1L1574.9 356.8L1575.9 361.6L1576.9 366.5L1577.9 371.5L1578.9 376.6L1579.9 381.8L1580.9 387.0L1581.9 392.4L1582.9 397.9L1583.9 403.5L1584.9 409.2L1585.9 414.9L1586.9 420.8L1587.9 426.8L1588.9 432.8L1589.9 439.0L1590.9 445.2L1591.9 451.5L1592.9 457.9L1593.9 464.4L1594.9 470.9L1595.9 477.5L1596.9 484.2L1597.9 491.0L1598.9 497.8L1599.9 504.6L1600.9 511.5L1601.9 518.4L1602.9 525.4L1603.9 532.4L1604.9 539.4L1605.9 546.4L1606.9 553.4L1607.9 560.5L1608.9 567.5L1609.9 574.6L1610.9 581.6L1611.9 588.6L1612.9 595.6L1613.9 602.6L1614.9 609.5L1615.9 616.5L1616.9 623.4L1617.9 630.2L1618.9 637.1L1619.9 643.9L1620.9 650.7L1621.9 657.4L1622.9 664.1L1623.9 670.8L1624.9 677.5L1625.9 684.1L1626.9 690.7L1627.9 697.3L1628.9 703.8L1629.9 710.4L1630.9 716.9L1631.9 723.5L1632.9 730.0L1633.9 736.5L1634.9 743.0L1635.9 749.5L1636.9 756.0L1637.9 762.6L1638.9 769.1L1639.9 775.7L1640.9 782.2L1641.9 788.8L1642.9 795.4L1643.9 802.0L1644.9 808.7L1645.9 815.4L1646.9 822.1L1647.9 828.8L1648.9 835.5L1649.9 842.3L1650.9 849.0L1651.9 855.8L1652.9 862.7L1653.9 869.5L1654.9 876.3L1655.9 883.2L1656.9 890.1L1657.9 896.9L1658.9 903.8L1659.9 910.7L1660.9 917.6L1661.9 924.4L1662.9 931.3L1663.9 938.1L1664.9 944.9L1665.9 951.7L1666.9 958.5L1667.9 965.2L1668.9 971.9L1669.9 978.6L1670.9 985.2L1671.9 991.8L1672.9 998.3L1673.9 1004.8L1674.9 1011.3L1675.9 1017.6L1676.9 1024.0L1677.9 1030.2L1678.9 1036.4L1679.9 1042.6L1680.9 1048.7L1681.9 1054.7L1682.9 1060.6L1683.9 1066.5L1684.9 1072.3L1685.9 1078.0L1686.9 1083.6L1687.9 1089.2L1688.9 1094.7L1689.9 1100.1L1690.9 1105.4L1691.9 1110.6L1692.9 1115.8L1693.9 1120.8L1694.9 1125.8L1695.9 1130.7L1696.9 1135.5L1697.9 1140.3L1698.9 1144.9L1699.9 1149.5L1700.9 1153.9L1701.9 1158.3L1702.9 1162.6L1703.9 1166.7L1704.9 1170.8L1705.9 1174.8L1706.9 1178.8L1707.9 1182.6L1708.9 1186.3L1709.9 1189.9L1710.9 1193.5L1711.9 1196.9L1712.9 1200.3L1713.9 1203.6L1714.9 1206.7L1715.9 1209.8L1716.9 1212.8L1717.9 1215.7L1718.9 1218.5L1719.9 1221.3L1720.9 1223.9L1721.9 1226.5L1722.9 1228.9L1723.9 1231.3L1724.9 1233.6L1725.9 1235.8L1726.9 1237.9L1727.9 1240.0L1728.9 1242.0L1729.9 1243.9L1730.9 1245.7L1731.9 1247.4L1732.9 1249.1L1733.9 1250.7L1734.9 1252.3L1735.9 1253.7L1736.9 1255.1L1737.9 1256.5L1738.9 1257.8L1739.9 1259.0L1740.9 1260.2L1741.9 1261.3L1742.9 1262.4L1743.9 1263.4L1744.9 1264.4L1745.9 1265.3L1746.9 1266.2L1747.9 1267.1L1748.9 1267.9L1749.9 1268.7L1750.9 1269.4L1751.9 1270.2L1752.9 1270.9L1753.9 1271.5L1754.9 1272.2L1755.9 1272.8L1756.9 1273.5L1757.9 1274.1L1758.9 1274.7L1759.9 1275.3L1760.9 1275.9L1761.9 1276.5L1762.9 1277.1L1763.9 1277.7L1764.9 1278.3L1765.9 1278.9L1766.9 1279.5L1767.9 1280.1L1768.9 1280.7L1769.9 1281.4L1770.9 1282.0L1771.9 1282.7L1772.9 1283.4L1773.9 1284.1L1774.9 1284.8L1775.9 1285.5L1776.9 1286.3L1777.9 1287.0L1778.9 1287.8L1779.9 1288.6L1780.9 1289.4L1781.9 1290.3L1782.9 1291.1L1783.9 1292.0L1784.9 1292.8L1785.9 1293.7L1786.9 1294.6L1787.9 1295.5L1788.9 1296.5L1789.9 1297.4L1790.9 1298.3L1791.9 1299.3L1792.9 1300.3L1793.9 1301.2L1794.9 1302.2L1795.9 1303.1L1796.9 1304.1L1797.9 1305.1L1798.9 1306.0L1799.9 1307.0L1800.9 1307.9L1801.9 1308.9L1802.9 1309.8L1803.9 1310.8L1804.9 1311.7L1805.9 1312.6L1806.9 1313.5L1807.9 1314.4L1808.9 1315.3L1809.9 1316.2L1810.9 1317.0L1811.9 1317.8L1812.9 1318.7L1813.9 1319.4L1814.9 1320.2L1815.9 1321.0L1816.9 1321.7L1817.9 1322.4L1818.9 1323.1L1819.9 1323.7L1820.9 1324.3L1821.9 1324.9L1822.9 1325.4L1823.9 1326.0L1824.9 1326.4L1825.9 1326.8L1826.9 1327.2L1827.9 1327.6L1828.9 1327.9L1829.9 1328.1L1830.9 1328.3L1831.9 1328.4L1832.9 1328.5L1833.9 1328.5L1834.9 1328.5L1835.9 1328.4L1836.9 1328.2L1837.9 1327.9L1838.9 1327.6L1839.9 1327.2L1840.9 1326.8L1841.9 1326.2L1842.9 1325.6L1843.9 1324.9L1844.9 1324.1L1845.9 1323.3L1846.9 1322.4L1847.9 1321.3L1848.9 1320.2L1849.9 1319.1L1850.9 1317.8L1851.9 1316.5L1852.9 1315.0L1853.9 1313.5L1854.9 1311.9L1855.9 1310.3L1856.9 1308.6L1857.9 1306.7L1858.9 1304.9L1859.9 1302.9L1860.9 1300.9L1861.9 1298.8L1862.9 1296.7L1863.9 1294.5L1864.9 1292.2L1865.9 1289.9L1866.9 1287.5L1867.9 1285.1L1868.9 1282.6L1869.9 1280.1L1870.9 1277.6L1871.9 1275.0L1872.9 1272.3L1873.9 1269.7L1874.9 1266.9L1875.9 1264.2L1876.9 1261.4L1877.9 1258.6L1878.9 1255.8L1879.9 1252.9L1880.9 1250.0L1881.9 1247.1L1882.9 1244.1L1883.9 1241.1L1884.9 1238.1L1885.9 1235.1L1886.9 1232.0L1887.9 1228.9L1888.9 1225.8L1889.9 1222.7L1890.9 1219.5L1891.9 1216.3L1892.9 1213.1L1893.9 1209.8L1894.9 1206.6L1895.9 1203.3L1896.9 1199.9L1897.9 1196.6L1898.9 1193.2L1899.9 1189.8L1900.9 1186.3L1901.9 1182.9L1902.9 1179.4L1903.9 1175.9L1904.9 1172.4L1905.9 1168.8L1906.9 1165.3L1907.9 1161.7L1908.9 1158.1L1909.9 1154.5L1910.9 1150.9L1911.9 1147.3L1912.9 1143.7L1913.9 1140.0L1914.9 1136.4L1915.9 1132.8L1916.9 1129.2L1917.9 1125.7L1918.9 1122.1L1919.9 1118.6L1920.9 1115.0L1921.9 1111.6L1922.9 1108.1L1923.9 1104.7L1924.9 1101.3L1925.9 1098.0L1926.9 1094.7L1927.9 1091.4L1928.9 1088.2L1929.9 1085.1L1930.9 1082.0L1931.9 1079.0L1932.9 1076.0L1933.9 1073.1L1934.9 1070.2L1935.9 1067.4L1936.9 1064.7L1937.9 1062.1L1938.9 1059.5L1939.9 1057.0L1940.9 1054.6L1941.9 1052.2L1942.9 1049.9L1943.9 1047.7L1944.9 1045.5L1945.9 1043.4L1946.9 1041.4L1947.9 1039.5L1948.9 1037.6L1949.9 1035.8L1950.9 1034.1L1951.9 1032.4L1952.9 1030.9L1953.9 1029.3L1954.9 1027.9L1955.9 1026.5L1956.9 1025.2L1957.9 1024.0L1958.9 1022.8L1959.9 1021.7L1960.9 1020.7L1961.9 1019.7L1962.9 1018.8L1963.9 1017.9L1964.9 1017.1L1965.9 1016.4L1966.9 1015.8L1967.9 1015.2L1968.9 1014.7L1969.9 1014.2L1970.9 1013.8L1971.9 1013.4L1972.9 1013.2L1973.9 1012.9L1974.9 1012.8L1975.9 1012.7L1976.9 1012.6L1977.9 1012.6L1978.9 1012.7L1979.9 1012.8L1980.9 1012.9L1981.9 1013.2L1982.9 1013.4L1983.9 1013.7L1984.9 1014.1L1985.9 1014.5L1986.9 1015.0L1987.9 1015.4L1988.9 1016.0L1989.9 1016.6L1990.9 1017.2L1991.9 1017.8L1992.9 1018.5L1993.9 1019.3L1994.9 1020.0L1995.9 1020.8L1996.9 1021.6L1997.9 1022.5L1998.9 1023.4L1999.9 1024.3L2000.9 1025.2L2001.9 1026.2L2002.9 1027.2L2003.9 1028.3L2004.9 1029.3L2005.9 1030.4L2006.9 1031.5L2007.9 1032.6L2008.9 1033.8L2009.9 1035.0L2010.9 1036.2L2011.9 1037.5L2012.9 1038.8L2013.9 1040.1L2014.9 1041.5L2015.9 1042.8L2016.9 1044.3L2017.9 1045.7L2018.9 1047.2L2019.9 1048.8L2020.9 1050.4L2021.9 1052.0L2022.9 1053.7L2023.9 1055.4L2024.9 1057.1L2025.9 1058.9L2026.9 1060.8L2027.9 1062.7L2028.9 1064.7L2029.9 1066.7L2030.9 1068.8L2031.9 1070.9L2032.9 1073.1L2033.9 1075.3L2034.9 1077.6L2035.9 1080.0L2036.9 1082.4L2037.9 1084.9L2038.9 1087.4L2039.9 1090.0L2040.9 1092.6L2041.9 1095.3L2042.9 1098.1L2043.9 1100.9L2044.9 1103.7L2045.9 1106.6L2046.9 1109.6L2047.9 1112.6L2048.9 1115.6L2049.9 1118.7L2050.9 1121.9L2051.9 1125.0L2052.9 1128.3L2053.9 1131.5L2054.9 1134.8L2055.9 1138.2L2056.9 1141.6L2057.9 1145.0L2058.9 1148.4L2059.9 1151.9L2060.9 1155.4L2061.9 1159.0L2062.9 1162.5L2063.9 1166.1L2064.9 1169.8L2065.9 1173.4L2066.9 1177.1L2067.9 1180.8L2068.9 1184.6L2069.9 1188.3L2070.9 1192.1L2071.9 1195.9L2072.9 1199.7L2073.9 1203.6L2074.9 1207.5L2075.9 1211.4L2076.9 1215.3L2077.9 1219.2L2078.9 1223.2L2079.9 1227.2L2080.9 1231.2L2081.9 1235.2L2082.9 1239.3L2083.9 1243.3L2084.9 1247.4L2085.9 1251.5L2086.9 1255.6L2087.9 1259.8L2088.9 1263.9L2089.9 1268.1L2090.9 1272.2L2091.9 1276.4L2092.9 1280.6L2093.9 1284.8L2094.9 1289.0L2095.9 1293.2L2096.9 1297.4L2097.9 1301.6L2098.9 1305.8L2099.9 1310.0L2100.9 1314.2L2101.9 1318.3L2102.9 1322.5L2103.9 1326.6L2104.9 1330.8L2105.9 1334.9L2106.9 1338.9L2107.9 1343.0L2108.9 1347.0L2109.9 1351.0L2110.9 1355.0L2111.9 1358.9L2112.9 1362.7L2113.9 1366.6L2114.9 1370.4L2115.9 1374.1L2116.9 1377.8L2117.9 1381.5L2118.9 1385.1L2119.9 1388.7L2120.9 1392.2L2121.9 1395.6L2122.9 1399.0L2123.9 1402.4L2124.9 1405.7L2125.9 1408.9L2126.9 1412.1L2127.9 1415.2L2128.9 1418.2L2129.9 1421.2L2130.9 1424.2L2131.9 1427.1L2132.9 1429.9L2133.9 1432.7L2134.9 1435.4L2135.9 1438.0L2136.9 1440.6L2137.9 1443.1L2138.9 1445.6L2139.9 1448.0L2140.9 1450.4L2141.9 1452.7L2142.9 1455.0L2143.9 1457.2L2144.9 1459.4L2145.9 1461.5L2146.9 1463.5L2147.9 1465.5L2148.9 1467.5L2149.9 1469.4L2150.9 1471.2L2151.9 1473.0L2152.9 1474.8L2153.9 1476.5L2154.9 1478.1L2155.9 1479.7L2156.9 1481.3L2157.9 1482.8L2158.9 1484.3L2159.9 1485.7L2160.9 1487.1L2161.9 1488.5L2162.9 1489.8L2163.9 1491.0L2164.9 1492.3L2165.9 1493.4L2166.9 1494.6L2167.9 1495.7L2168.9 1496.7L2169.9 1497.8L2170.9 1498.8L2171.9 1499.7L2172.9 1500.6L2173.9 1501.5L2174.9 1502.3L2175.9 1503.2L2176.9 1503.9L2177.9 1504.7L2178.9 1505.4L2179.9 1506.1L2180.9 1506.7L2181.9 1507.3L2182.9 1507.9L2183.9 1508.5L2184.9 1509.0L2185.9 1509.5L2186.9 1510.0L2187.9 1510.5L2188.9 1510.9L2189.9 1511.3L2190.9 1511.7L2191.9 1512.1L2192.9 1512.4L2193.9 1512.7L2194.9 1513.0L2195.9 1513.3L2196.9 1513.6L2197.9 1513.8L2198.9 1514.1L2199.9 1514.3L2200.9 1514.5L2201.9 1514.7L2202.9 1514.9L2203.9 1515.1L2204.9 1515.2L2205.9 1515.4L2206.9 1515.5L2207.9 1515.6L2208.9 1515.7L2209.9 1515.8L2210.9 1515.9L2211.9 1516.0L2212.9 1516.1L2213.9 1516.2L2214.9 1516.3L2215.9 1516.3L2216.9 1516.4L2217.9 1516.5L2218.9 1516.5L2219.9 1516.6L2220.9 1516.6L2221.9 1516.6L2222.9 1516.7L2223.9 1516.7L2224.9 1516.7L2225.9 1516.8L2226.9 1516.8L2227.9 1516.8L2228.9 1516.8L2229.9 1516.8L2230.9 1516.9L2231.9 1516.9L2232.9 1516.9L2233.9 1516.9L2234.9 1516.9L2235.9 1516.9L2236.9 1516.9L2237.9 1516.9L2238.9 1517.0Z" fill="url(#g)" stroke="none"/>
<path d="M214.9 1517.0L215.9 1516.8L216.9 1516.7L217.9 1516.7L218.9 1516.7L219.9 1516.7L220.9 1516.6L221.9 1516.6L222.9 1516.6L223.9 1516.5L224.9 1516.5L225.9 1516.4L226.9 1516.4L227.9 1516.3L228.9 1516.2L229.9 1516.2L230.9 1516.1L231.9 1516.0L232.9 1515.9L233.9 1515.8L234.9 1515.7L235.9 1515.6L236.9 1515.5L237.9 1515.4L238.9 1515.2L239.9 1515.1L240.9 1514.9L241.9 1514.7L242.9 1514.6L243.9 1514.4L244.9 1514.2L245.9 1514.0L246.9 1513.7L247.9 1513.5L248.9 1513.2L249.9 1513.0L250.9 1512.7L251.9 1512.4L252.9 1512.1L253.9 1511.7L254.9 1511.4L255.9 1511.0L256.9 1510.6L257.9 1510.2L258.9 1509.7L259.9 1509.3L260.9 1508.8L261.9 1508.3L262.9 1507.7L263.9 1507.2L264.9 1506.6L265.9 1505.9L266.9 1505.3L267.9 1504.6L268.9 1503.9L269.9 1503.2L270.9 1502.4L271.9 1501.6L272.9 1500.7L273.9 1499.9L274.9 1499.0L275.9 1498.0L276.9 1497.0L277.9 1496.0L278.9 1494.9L279.9 1493.8L280.9 1492.7L281.9 1491.5L282.9 1490.3L283.9 1489.0L284.9 1487.7L285.9 1486.3L286.9 1484.9L287.9 1483.4L288.9 1481.9L289.9 1480.4L290.9 1478.8L291.9 1477.1L292.9 1475.4L293.9 1473.7L294.9 1471.9L295.9 1470.0L296.9 1468.1L297.9 1466.2L298.9 1464.2L299.9 1462.2L300.9 1460.1L301.9 1457.9L302.9 1455.7L303.9 1453.5L304.9 1451.2L305.9 1448.9L306.9 1446.5L307.9 1444.1L308.9 1441.6L309.9 1439.1L310.9 1436.6L311.9 1434.0L312.9 1431.4L313.9 1428.7L314.9 1426.0L315.9 1423.3L316.9 1420.5L317.9 1417.7L318.9 1414.9L319.9 1412.1L320.9 1409.2L321.9 1406.3L322.9 1403.4L323.9 1400.5L324.9 1397.5L325.9 1394.6L326.9 1391.6L327.9 1388.7L328.9 1385.7L329.9 1382.7L330.9 1379.7L331.9 1376.8L332.9 1373.8L333.9 1370.9L334.9 1367.9L335.9 1365.0L336.9 1362.1L337.9 1359.2L338.9 1356.3L339.9 1353.4L340.9 1350.6L341.9 1347.8L342.9 1345.0L343.9 1342.2L344.9 1339.5L345.9 1336.8L346.9 1334.2L347.9 1331.6L348.9 1329.0L349.9 1326.5L350.9 1324.0L351.9 1321.5L352.9 1319.1L353.9 1316.8L354.9 1314.5L355.9 1312.2L356.9 1310.0L357.9 1307.9L358.9 1305.8L359.9 1303.8L360.9 1301.8L361.9 1299.9L362.9 1298.0L363.9 1296.2L364.9 1294.5L365.9 1292.8L366.9 1291.2L367.9 1289.6L368.9 1288.1L369.9 1286.7L370.9 1285.3L371.9 1284.0L372.9 1282.8L373.9 1281.6L374.9 1280.5L375.9 1279.4L376.9 1278.4L377.9 1277.5L378.9 1276.7L379.9 1275.8L380.9 1275.1L381.9 1274.4L382.9 1273.8L383.9 1273.2L384.9 1272.7L385.9 1272.2L386.9 1271.8L387.9 1271.5L388.9 1271.2L389.9 1270.9L390.9 1270.7L391.9 1270.5L392.9 1270.4L393.9 1270.3L394.9 1270.2L395.9 1270.2L396.9 1270.3L397.9 1270.3L398.9 1270.4L399.9 1270.5L400.9 1270.7L401.9 1270.8L402.9 1271.0L403.9 1271.2L404.9 1271.5L405.9 1271.7L406.9 1272.0L407.9 1272.2L408.9 1272.5L409.9 1272.8L410.9 1273.1L411.9 1273.4L412.9 1273.7L413.9 1274.0L414.9 1274.3L415.9 1274.6L416.9 1274.9L417.9 1275.3L418.9 1275.6L419.9 1275.9L420.9 1276.2L421.9 1276.4L422.9 1276.7L423.9 1277.0L424.9 1277.3L425.9 1277.5L426.9 1277.8L427.9 1278.0L428.9 1278.3L429.9 1278.5L430.9 1278.7L431.9 1278.9L432.9 1279.1L433.9 1279.3L434.9 1279.5L435.9 1279.6L436.9 1279.8L437.9 1280.0L438.9 1280.1L439.9 1280.3L440.9 1280.4L441.9 1280.5L442.9 1280.7L443.9 1280.8L444.9 1280.9L445.9 1281.0L446.9 1281.2L447.9 1281.3L448.9 1281.4L449.9 1281.6L450.9 1281.7L451.9 1281.8L452.9 1282.0L453.9 1282.1L454.9 1282.3L455.9 1282.5L456.9 1282.7L457.9 1282.9L458.9 1283.1L459.9 1283.3L460.9 1283.6L461.9 1283.8L462.9 1284.1L463.9 1284.4L464.9 1284.7L465.9 1285.0L466.9 1285.4L467.9 1285.7L468.9 1286.1L469.9 1286.5L470.9 1287.0L471.9 1287.4L472.9 1287.9L473.9 1288.4L474.9 1288.9L475.9 1289.4L476.9 1290.0L477.9 1290.6L478.9 1291.2L479.9 1291.8L480.9 1292.4L481.9 1293.1L482.9 1293.7L483.9 1294.4L484.9 1295.1L485.9 1295.8L486.9 1296.6L487.9 1297.3L488.9 1298.1L489.9 1298.8L490.9 1299.6L491.9 1300.4L492.9 1301.2L493.9 1302.0L494.9 1302.8L495.9 1303.6L496.9 1304.4L497.9 1305.2L498.9 1306.0L499.9 1306.8L500.9 1307.7L501.9 1308.5L502.9 1309.3L503.9 1310.1L504.9 1310.9L505.9 1311.7L506.9 1312.5L507.9 1313.3L508.9 1314.1L509.9 1314.9L510.9 1315.6L511.9 1316.4L512.9 1317.1L513.9 1317.9L514.9 1318.6L515.9 1319.3L516.9 1320.0L517.9 1320.7L518.9 1321.3L519.9 1322.0L520.9 1322.6L521.9 1323.2L522.9 1323.8L523.9 1324.3L524.9 1324.9L525.9 1325.4L526.9 1325.9L527.9 1326.4L528.9 1326.8L529.9 1327.2L530.9 1327.6L531.9 1328.0L532.9 1328.4L533.9 1328.7L534.9 1329.0L535.9 1329.3L536.9 1329.5L537.9 1329.7L538.9 1329.9L539.9 1330.1L540.9 1330.2L541.9 1330.4L542.9 1330.4L543.9 1330.5L544.9 1330.6L545.9 1330.6L546.9 1330.6L547.9 1330.5L548.9 1330.5L549.9 1330.4L550.9 1330.3L551.9 1330.2L552.9 1330.1L553.9 1330.0L554.9 1329.8L555.9 1329.7L556.9 1329.5L557.9 1329.3L558.9 1329.1L559.9 1328.9L560.9 1328.7L561.9 1328.4L562.9 1328.2L563.9 1328.0L564.9 1327.7L565.9 1327.5L566.9 1327.3L567.9 1327.0L568.9 1326.8L569.9 1326.5L570.9 1326.3L571.9 1326.1L572.9 1325.9L573.9 1325.6L574.9 1325.4L575.9 1325.2L576.9 1325.0L577.9 1324.8L578.9 1324.7L579.9 1324.5L580.9 1324.3L581.9 1324.2L582.9 1324.1L583.9 1323.9L584.9 1323.8L585.9 1323.8L586.9 1323.7L587.9 1323.6L588.9 1323.6L589.9 1323.6L590.9 1323.6L591.9 1323.6L592.9 1323.6L593.9 1323.7L594.9 1323.8L595.9 1323.9L596.9 1324.0L597.9 1324.1L598.9 1324.3L599.9 1324.5L600.9 1324.7L601.9 1325.0L602.9 1325.2L603.9 1325.5L604.9 1325.9L605.9 1326.2L606.9 1326.6L607.9 1327.0L608.9 1327.4L609.9 1327.9L610.9 1328.3L611.9 1328.8L612.9 1329.4L613.9 1329.9L614.9 1330.5L615.9 1331.1L616.9 1331.7L617.9 1332.3L618.9 1333.0L619.9 1333.7L620.9 1334.4L621.9 1335.1L622.9 1335.9L623.9 1336.6L624.9 1337.4L625.9 1338.1L626.9 1338.9L627.9 1339.7L628.9 1340.5L629.9 1341.3L630.9 1342.2L631.9 1343.0L632.9 1343.8L633.9 1344.6L634.9 1345.5L635.9 1346.3L636.9 1347.1L637.9 1348.0L638.9 1348.8L639.9 1349.6L640.9 1350.4L641.9 1351.2L642.9 1352.0L643.9 1352.8L644.9 1353.6L645.9 1354.4L646.9 1355.2L647.9 1355.9L648.9 1356.7L649.9 1357.4L650.9 1358.2L651.9 1358.9L652.9 1359.6L653.9 1360.3L654.9 1361.0L655.9 1361.7L656.9 1362.4L657.9 1363.0L658.9 1363.7L659.9 1364.3L660.9 1365.0L661.9 1365.6L662.9 1366.2L663.9 1366.8L664.9 1367.4L665.9 1368.0L666.9 1368.5L667.9 1369.1L668.9 1369.6L669.9 1370.2L670.9 1370.7L671.9 1371.2L672.9 1371.7L673.9 1372.2L674.9 1372.7L675.9 1373.1L676.9 1373.6L677.9 1374.0L678.9 1374.5L679.9 1374.9L680.9 1375.3L681.9 1375.7L682.9 1376.0L683.9 1376.4L684.9 1376.7L685.9 1377.1L686.9 1377.4L687.9 1377.7L688.9 1378.0L689.9 1378.2L690.9 1378.5L691.9 1378.7L692.9 1379.0L693.9 1379.2L694.9 1379.4L695.9 1379.6L696.9 1379.8L697.9 1380.0L698.9 1380.1L699.9 1380.3L700.9 1380.4L701.9 1380.5L702.9 1380.7L703.9 1380.8L704.9 1380.9L705.9 1381.0L706.9 1381.1L707.9 1381.2L708.9 1381.3L709.9 1381.3L710.9 1381.4L711.9 1381.5L712.9 1381.5L713.9 1381.6L714.9 1381.7L715.9 1381.7L716.9 1381.7L717.9 1381.8L718.9 1381.8L719.9 1381.8L720.9 1381.9L721.9 1381.9L722.9 1381.9L723.9 1381.9L724.9 1381.9L725.9 1381.9L726.9 1381.9L727.9 1381.9L728.9 1381.8L729.9 1381.8L730.9 1381.8L731.9 1381.7L732.9 1381.7L733.9 1381.6L734.9 1381.5L735.9 1381.5L736.9 1381.4L737.9 1381.3L738.9 1381.2L739.9 1381.1L740.9 1380.9L741.9 1380.8L742.9 1380.7L743.9 1380.5L744.9 1380.4L745.9 1380.2L746.9 1380.0L747.9 1379.8L748.9 1379.6L749.9 1379.4L750.9 1379.2L751.9 1378.9L752.9 1378.7L753.9 1378.5L754.9 1378.2L755.9 1377.9L756.9 1377.7L757.9 1377.4L758.9 1377.1L759.9 1376.8L760.9 1376.5L761.9 1376.1L762.9 1375.8L763.9 1375.5L764.9 1375.1L765.9 1374.8L766.9 1374.4L767.9 1374.0L768.9 1373.7L769.9 1373.3L770.9 1372.9L771.9 1372.5L772.9 1372.1L773.9 1371.7L774.9 1371.3L775.9 1370.9L776.9 1370.4L777.9 1370.0L778.9 1369.6L779.9 1369.1L780.9 1368.7L781.9 1368.3L782.9 1367.8L783.9 1367.4L784.9 1366.9L785.9 1366.5L786.9 1366.0L787.9 1365.6L788.9 1365.1L789.9 1364.7L790.9 1364.2L791.9 1363.8L792.9 1363.4L793.9 1362.9L794.9 1362.5L795.9 1362.1L796.9 1361.6L797.9 1361.2L798.9 1360.8L799.9 1360.4L800.9 1360.0L801.9 1359.6L802.9 1359.2L803.9 1358.9L804.9 1358.5L805.9 1358.1L806.9 1357.8L807.9 1357.4L808.9 1357.1L809.9 1356.8L810.9 1356.5L811.9 1356.2L812.9 1355.9L813.9 1355.6L814.9 1355.3L815.9 1355.0L816.9 1354.8L817.9 1354.5L818.9 1354.3L819.9 1354.1L820.9 1353.9L821.9 1353.7L822.9 1353.5L823.9 1353.3L824.9 1353.1L825.9 1353.0L826.9 1352.8L827.9 1352.7L828.9 1352.6L829.9 1352.5L830.9 1352.4L831.9 1352.3L832.9 1352.2L833.9 1352.1L834.9 1352.1L835.9 1352.1L836.9 1352.0L837.9 1352.0L838.9 1352.0L839.9 1352.0L840.9 1352.0L841.9 1352.0L842.9 1352.0L843.9 1352.1L844.9 1352.1L845.9 1352.2L846.9 1352.3L847.9 1352.4L848.9 1352.5L849.9 1352.6L850.9 1352.7L851.9 1352.8L852.9 1352.9L853.9 1353.1L854.9 1353.2L855.9 1353.4L856.9 1353.5L857.9 1353.7L858.9 1353.9L859.9 1354.1L860.9 1354.2L861.9 1354.4L862.9 1354.7L863.9 1354.9L864.9 1355.1L865.9 1355.3L866.9 1355.5L867.9 1355.8L868.9 1356.0L869.9 1356.2L870.9 1356.5L871.9 1356.7L872.9 1357.0L873.9 1357.2L874.9 1357.5L875.9 1357.7L876.9 1358.0L877.9 1358.3L878.9 1358.5L879.9 1358.8L880.9 1359.1L881.9 1359.3L882.9 1359.6L883.9 1359.9L884.9 1360.2L885.9 1360.4L886.9 1360.7L887.9 1361.0L888.9 1361.2L889.9 1361.5L890.9 1361.7L891.9 1362.0L892.9 1362.3L893.9 1362.5L894.9 1362.7L895.9 1363.0L896.9 1363.2L897.9 1363.4L898.9 1363.7L899.9 1363.9L900.9 1364.1L901.9 1364.3L902.9 1364.5L903.9 1364.7L904.9 1364.8L905.9 1365.0L906.9 1365.2L907.9 1365.3L908.9 1365.5L909.9 1365.6L910.9 1365.7L911.9 1365.8L912.9 1365.9L913.9 1366.0L914.9 1366.1L915.9 1366.2L916.9 1366.3L917.9 1366.4L918.9 1366.4L919.9 1366.5L920.9 1366.5L921.9 1366.5L922.9 1366.6L923.9 1366.6L924.9 1366.6L925.9 1366.6L926.9 1366.6L927.9 1366.6L928.9 1366.6L929.9 1366.5L930.9 1366.5L931.9 1366.4L932.9 1366.4L933.9 1366.3L934.9 1366.2L935.9 1366.2L936.9 1366.1L937.9 1365.9L938.9 1365.8L939.9 1365.7L940.9 1365.5L941.9 1365.3L942.9 1365.2L943.9 1365.0L944.9 1364.7L945.9 1364.5L946.9 1364.2L947.9 1364.0L948.9 1363.7L949.9 1363.3L950.9 1363.0L951.9 1362.6L952.9 1362.2L953.9 1361.8L954.9 1361.4L955.9 1360.9L956.9 1360.4L957.9 1359.9L958.9 1359.3L959.9 1358.7L960.9 1358.1L961.9 1357.5L962.9 1356.8L963.9 1356.1L964.9 1355.4L965.9 1354.7L966.9 1353.9L967.9 1353.1L968.9 1352.3L969.9 1351.4L970.9 1350.6L971.9 1349.7L972.9 1348.7L973.9 1347.8L974.9 1346.8L975.9 1345.8L976.9 1344.8L977.9 1343.8L978.9 1342.7L979.9 1341.6L980.9 1340.5L981.9 1339.4L982.9 1338.3L983.9 1337.1L984.9 1335.9L985.9 1334.7L986.9 1333.5L987.9 1332.3L988.9 1331.0L989.9 1329.7L990.9 1328.4L991.9 1327.1L992.9 1325.8L993.9 1324.4L994.9 1323.1L995.9 1321.7L996.9 1320.3L997.9 1318.9L998.9 1317.4L999.9 1316.0L1000.9 1314.5L1001.9 1313.0L1002.9 1311.5L1003.9 1310.0L1004.9 1308.5L1005.9 1307.0L1006.9 1305.4L1007.9 1303.9L1008.9 1302.3L1009.9 1300.7L1010.9 1299.2L1011.9 1297.6L1012.9 1296.0L1013.9 1294.4L1014.9 1292.8L1015.9 1291.2L1016.9 1289.7L1017.9 1288.1L1018.9 1286.5L1019.9 1284.9L1020.9 1283.4L1021.9 1281.8L1022.9 1280.3L1023.9 1278.8L1024.9 1277.3L1025.9 1275.7L1026.9 1274.3L1027.9 1272.8L1028.9 1271.3L1029.9 1269.9L1030.9 1268.4L1031.9 1267.0L1032.9 1265.6L1033.9 1264.2L1034.9 1262.8L1035.9 1261.4L1036.9 1260.0L1037.9 1258.6L1038.9 1257.2L1039.9 1255.8L1040.9 1254.4L1041.9 1253.0L1042.9 1251.6L1043.9 1250.2L1044.9 1248.7L1045.9 1247.3L1046.9 1245.8L1047.9 1244.3L1048.9 1242.7L1049.9 1241.1L1050.9 1239.5L1051.9 1237.9L1052.9 1236.2L1053.9 1234.4L1054.9 1232.6L1055.9 1230.8L1056.9 1228.9L1057.9 1226.9L1058.9 1224.9L1059.9 1222.8L1060.9 1220.7L1061.9 1218.5L1062.9 1216.2L1063.9 1213.9L1064.9 1211.5L1065.9 1209.0L1066.9 1206.5L1067.9 1203.9L1068.9 1201.2L1069.9 1198.4L1070.9 1195.6L1071.9 1192.8L1072.9 1189.8L1073.9 1186.8L1074.9 1183.7L1075.9 1180.6L1076.9 1177.4L1077.9 1174.1L1078.9 1170.8L1079.9 1167.4L1080.9 1163.9L1081.9 1160.4L1082.9 1156.8L1083.9 1153.2L1084.9 1149.5L1085.9 1145.7L1086.9 1141.9L1087.9 1138.0L1088.9 1134.1L1089.9 1130.1L1090.9 1126.1L1091.9 1121.9L1092.9 1117.8L1093.9 1113.5L1094.9 1109.3L1095.9 1104.9L1096.9 1100.5L1097.9 1096.0L1098.9 1091.5L1099.9 1086.9L1100.9 1082.2L1101.9 1077.4L1102.9 1072.6L1103.9 1067.7L1104.9 1062.8L1105.9 1057.8L1106.9 1052.7L1107.9 1047.6L1108.9 1042.3L1109.9 1037.1L1110.9 1031.7L1111.9 1026.3L1112.9 1020.8L1113.9 1015.3L1114.9 1009.7L1115.9 1004.0L1116.9 998.3L1117.9 992.5L1118.9 986.7L1119.9 980.9L1120.9 975.0L1121.9 969.0L1122.9 963.0L1123.9 957.0L1124.9 951.0L1125.9 944.9L1126.9 938.8L1127.9 932.7L1128.9 926.6L1129.9 920.5L1130.9 914.4L1131.9 908.3L1132.9 902.2L1133.9 896.1L1134.9 890.0L1135.9 884.0L1136.9 877.9L1137.9 871.9L1138.9 866.0L1139.9 860.0L1140.9 854.2L1141.9 848.3L1142.9 842.5L1143.9 836.8L1144.9 831.1L1145.9 825.5L1146.9 820.0L1147.9 814.5L1148.9 809.1L1149.9 803.8L1150.9 798.5L1151.9 793.4L1152.9 788.3L1153.9 783.3L1154.9 778.4L1155.9 773.6L1156.9 768.8L1157.9 764.2L1158.9 759.7L1159.9 755.3L1160.9 751.0L1161.9 746.8L1162.9 742.7L1163.9 738.7L1164.9 734.9L1165.9 731.1L1166.9 727.5L1167.9 724.0L1168.9 720.6L1169.9 717.4L1170.9 714.3L1171.9 711.3L1172.9 708.4L1173.9 705.7L1174.9 703.1L1175.9 700.6L1176.9 698.3L1177.9 696.1L1178.9 694.1L1179.9 692.1L1180.9 690.3L1181.9 688.7L1182.9 687.1L1183.9 685.7L1184.9 684.5L1185.9 683.3L1186.9 682.3L1187.9 681.4L1188.9 680.6L1189.9 680.0L1190.9 679.4L1191.9 679.0L1192.9 678.7L1193.9 678.5L1194.9 678.4L1195.9 678.4L1196.9 678.5L1197.9 678.7L1198.9 679.0L1199.9 679.4L1200.9 679.9L1201.9 680.5L1202.9 681.2L1203.9 681.9L1204.9 682.7L1205.9 683.6L1206.9 684.6L1207.9 685.7L1208.9 686.8L1209.9 688.0L1210.9 689.2L1211.9 690.5L1212.9 691.9L1213.9 693.3L1214.9 694.8L1215.9 696.3L1216.9 697.9L1217.9 699.6L1218.9 701.3L1219.9 703.0L1220.9 704.8L1221.9 706.6L1222.9 708.4L1223.9 710.3L1224.9 712.2L1225.9 714.1L1226.9 716.1L1227.9 718.0L1228.9 720.0L1229.9 722.0L1230.9 724.0L1231.9 726.1L1232.9 728.1L1233.9 730.1L1234.9 732.1L1235.9 734.1L1236.9 736.1L1237.9 738.1L1238.9 740.1L1239.9 742.0L1240.9 744.0L1241.9 745.9L1242.9 747.7L1243.9 749.6L1244.9 751.4L1245.9 753.2L1246.9 754.9L1247.9 756.6L1248.9 758.2L1249.9 759.8L1250.9 761.4L1251.9 762.9L1252.9 764.4L1253.9 765.8L1254.9 767.2L1255.9 768.6L1256.9 769.9L1257.9 771.1L1258.9 772.3L1259.9 773.5L1260.9 774.6L1261.9 775.7L1262.9 776.8L1263.9 777.8L1264.9 778.8L1265.9 779.8L1266.9 780.7L1267.9 781.6L1268.9 782.5L1269.9 783.4L1270.9 784.2L1271.9 785.0L1272.9 785.8L1273.9 786.6L1274.9 787.4L1275.9 788.1L1276.9 788.9L1277.9 789.6L1278.9 790.3L1279.9 791.0L1280.9 791.7L1281.9 792.4L1282.9 793.1L1283.9 793.8L1284.9 794.5L1285.9 795.1L1286.9 795.8L1287.9 796.5L1288.9 797.1L1289.9 797.8L1290.9 798.4L1291.9 799.0L1292.9 799.6L1293.9 800.3L1294.9 800.9L1295.9 801.5L1296.9 802.1L1297.9 802.7L1298.9 803.3L1299.9 803.9L1300.9 804.5L1301.9 805.1L1302.9 805.7L1303.9 806.2L1304.9 806.8L1305.9 807.4L1306.9 808.0L1307.9 808.6L1308.9 809.1L1309.9 809.7L1310.9 810.3L1311.9 810.9L1312.9 811.5L1313.9 812.0L1314.9 812.6L1315.9 813.2L1316.9 813.8L1317.9 814.4L1318.9 815.0L1319.9 815.5L1320.9 816.1L1321.9 816.7L1322.9 817.3L1323.9 817.8L1324.9 818.4L1325.9 819.0L1326.9 819.5L1327.9 820.0L1328.9 820.5L1329.9 821.0L1330.9 821.5L1331.9 822.0L1332.9 822.4L1333.9 822.8L1334.9 823.2L1335.9 823.5L1336.9 823.8L1337.9 824.1L1338.9 824.4L1339.9 824.6L1340.9 824.8L1341.9 824.9L1342.9 825.0L1343.9 825.1L1344.9 825.1L1345.9 825.0L1346.9 824.9L1347.9 824.8L1348.9 824.6L1349.9 824.4L1350.9 824.1L1351.9 823.8L1352.9 823.4L1353.9 823.0L1354.9 822.5L1355.9 822.0L1356.9 821.4L1357.9 820.8L1358.9 820.2L1359.9 819.4L1360.9 818.7L1361.9 817.9L1362.9 817.0L1363.9 816.1L1364.9 815.1L1365.9 814.1L1366.9 813.0L1367.9 811.9L1368.9 810.7L1369.9 809.5L1370.9 808.2L1371.9 806.9L1372.9 805.5L1373.9 804.0L1374.9 802.5L1375.9 801.0L1376.9 799.3L1377.9 797.7L1378.9 795.9L1379.9 794.1L1380.9 792.2L1381.9 790.3L1382.9 788.3L1383.9 786.2L1384.9 784.1L1385.9 781.9L1386.9 779.6L1387.9 777.3L1388.9 774.9L1389.9 772.4L1390.9 769.9L1391.9 767.3L1392.9 764.6L1393.9 761.9L1394.9 759.1L1395.9 756.3L1396.9 753.4L1397.9 750.4L1398.9 747.4L1399.9 744.3L1400.9 741.2L1401.9 738.0L1402.9 734.8L1403.9 731.5L1404.9 728.2L1405.9 724.8L1406.9 721.4L1407.9 717.9L1408.9 714.5L1409.9 710.9L1410.9 707.3L1411.9 703.7L1412.9 700.1L1413.9 696.4L1414.9 692.7L1415.9 688.9L1416.9 685.1L1417.9 681.3L1418.9 677.4L1419.9 673.6L1420.9 669.6L1421.9 665.7L1422.9 661.7L1423.9 657.7L1424.9 653.6L1425.9 649.5L1426.9 645.4L1427.9 641.2L1428.9 637.0L1429.9 632.8L1430.9 628.6L1431.9 624.3L1432.9 619.9L1433.9 615.6L1434.9 611.2L1435.9 606.7L1436.9 602.3L1437.9 597.8L1438.9 593.3L1439.9 588.7L1440.9 584.1L1441.9 579.5L1442.9 574.9L1443.9 570.2L1444.9 565.5L1445.9 560.8L1446.9 556.1L1447.9 551.4L1448.9 546.6L1449.9 541.9L1450.9 537.1L1451.9 532.3L1452.9 527.5L1453.9 522.7L1454.9 517.9L1455.9 513.1L1456.9 508.3L1457.9 503.5L1458.9 498.6L1459.9 493.8L1460.9 489.0L1461.9 484.2L1462.9 479.4L1463.9 474.7L1464.9 469.9L1465.9 465.1L1466.9 460.3L1467.9 455.6L1468.9 450.9L1469.9 446.1L1470.9 441.4L1471.9 436.7L1472.9 432.0L1473.9 427.3L1474.9 422.7L1475.9 418.0L1476.9 413.4L1477.9 408.8L1478.9 404.2L1479.9 399.6L1480.9 395.0L1481.9 390.5L1482.9 386.0L1483.9 381.5L1484.9 377.0L1485.9 372.6L1486.9 368.2L1487.9 363.8L1488.9 359.5L1489.9 355.2L1490.9 350.9L1491.9 346.7L1492.9 342.5L1493.9 338.4L1494.9 334.4L1495.9 330.3L1496.9 326.4L1497.9 322.5L1498.9 318.7L1499.9 314.9L1500.9 311.3L1501.9 307.7L1502.9 304.1L1503.9 300.7L1504.9 297.3L1505.9 294.0L1506.9 290.9L1507.9 287.8L1508.9 284.8L1509.9 281.9L1510.9 279.1L1511.9 276.4L1512.9 273.8L1513.9 271.3L1514.9 269.0L1515.9 266.7L1516.9 264.6L1517.9 262.6L1518.9 260.7L1519.9 258.9L1520.9 257.3L1521.9 255.8L1522.9 254.4L1523.9 253.1L1524.9 252.0L1525.9 251.0L1526.9 250.1L1527.9 249.4L1528.9 248.8L1529.9 248.3L1530.9 248.0L1531.9 247.8L1532.9 247.8L1533.9 247.9L1534.9 248.1L1535.9 248.5L1536.9 249.0L1537.9 249.7L1538.9 250.5L1539.9 251.4L1540.9 252.5L1541.9 253.7L1542.9 255.0L1543.9 256.5L1544.9 258.1L1545.9 259.8L1546.9 261.6L1547.9 263.6L1548.9 265.7L1549.9 267.9L1550.9 270.2L1551.9 272.7L1552.9 275.3L1553.9 277.9L1554.9 280.7L1555.9 283.6L1556.9 286.6L1557.9 289.7L1558.9 292.9L1559.9 296.2L1560.9 299.6L1561.9 303.0L1562.9 306.6L1563.9 310.3L1564.9 314.1L1565.9 317.9L1566.9 321.9L1567.9 325.9L1568.9 330.1L1569.9 334.3L1570.9 338.6L1571.9 343.0L1572.9 347.5L1573.9 352.1L1574.9 356.8L1575.9 361.6L1576.9 366.5L1577.9 371.5L1578.9 376.6L1579.9 381.8L1580.9 387.0L1581.9 392.4L1582.9 397.9L1583.9 403.5L1584.9 409.2L1585.9 414.9L1586.9 420.8L1587.9 426.8L1588.9 432.8L1589.9 439.0L1590.9 445.2L1591.9 451.5L1592.9 457.9L1593.9 464.4L1594.9 470.9L1595.9 477.5L1596.9 484.2L1597.9 491.0L1598.9 497.8L1599.9 504.6L1600.9 511.5L1601.9 518.4L1602.9 525.4L1603.9 532.4L1604.9 539.4L1605.9 546.4L1606.9 553.4L1607.9 560.5L1608.9 567.5L1609.9 574.6L1610.9 581.6L1611.9 588.6L1612.9 595.6L1613.9 602.6L1614.9 609.5L1615.9 616.5L1616.9 623.4L1617.9 630.2L1618.9 637.1L1619.9 643.9L1620.9 650.7L1621.9 657.4L1622.9 664.1L1623.9 670.8L1624.9 677.5L1625.9 684.1L1626.9 690.7L1627.9 697.3L1628.9 703.8L1629.9 710.4L1630.9 716.9L1631.9 723.5L1632.9 730.0L1633.9 736.5L1634.9 743.0L1635.9 749.5L1636.9 756.0L1637.9 762.6L1638.9 769.1L1639.9 775.7L1640.9 782.2L1641.9 788.8L1642.9 795.4L1643.9 802.0L1644.9 808.7L1645.9 815.4L1646.9 822.1L1647.9 828.8L1648.9 835.5L1649.9 842.3L1650.9 849.0L1651.9 855.8L1652.9 862.7L1653.9 869.5L1654.9 876.3L1655.9 883.2L1656.9 890.1L1657.9 896.9L1658.9 903.8L1659.9 910.7L1660.9 917.6L1661.9 924.4L1662.9 931.3L1663.9 938.1L1664.9 944.9L1665.9 951.7L1666.9 958.5L1667.9 965.2L1668.9 971.9L1669.9 978.6L1670.9 985.2L1671.9 991.8L1672.9 998.3L1673.9 1004.8L1674.9 1011.3L1675.9 1017.6L1676.9 1024.0L1677.9 1030.2L1678.9 1036.4L1679.9 1042.6L1680.9 1048.7L1681.9 1054.7L1682.9 1060.6L1683.9 1066.5L1684.9 1072.3L1685.9 1078.0L1686.9 1083.6L1687.9 1089.2L1688.9 1094.7L1689.9 1100.1L1690.9 1105.4L1691.9 1110.6L1692.9 1115.8L1693.9 1120.8L1694.9 1125.8L1695.9 1130.7L1696.9 1135.5L1697.9 1140.3L1698.9 1144.9L1699.9 1149.5L1700.9 1153.9L1701.9 1158.3L1702.9 1162.6L1703.9 1166.7L1704.9 1170.8L1705.9 1174.8L1706.9 1178.8L1707.9 1182.6L1708.9 1186.3L1709.9 1189.9L1710.9 1193.5L1711.9 1196.9L1712.9 1200.3L1713.9 1203.6L1714.9 1206.7L1715.9 1209.8L1716.9 1212.8L1717.9 1215.7L1718.9 1218.5L1719.9 1221.3L1720.9 1223.9L1721.9 1226.5L1722.9 1228.9L1723.9 1231.3L1724.9 1233.6L1725.9 1235.8L1726.9 1237.9L1727.9 1240.0L1728.9 1242.0L1729.9 1243.9L1730.9 1245.7L1731.9 1247.4L1732.9 1249.1L1733.9 1250.7L1734.9 1252.3L1735.9 1253.7L1736.9 1255.1L1737.9 1256.5L1738.9 1257.8L1739.9 1259.0L1740.9 1260.2L1741.9 1261.3L1742.9 1262.4L1743.9 1263.4L1744.9 1264.4L1745.9 1265.3L1746.9 1266.2L1747.9 1267.1L1748.9 1267.9L1749.9 1268.7L1750.9 1269.4L1751.9 1270.2L1752.9 1270.9L1753.9 1271.5L1754.9 1272.2L1755.9 1272.8L1756.9 1273.5L1757.9 1274.1L1758.9 1274.7L1759.9 1275.3L1760.9 1275.9L1761.9 1276.5L1762.9 1277.1L1763.9 1277.7L1764.9 1278.3L1765.9 1278.9L1766.9 1279.5L1767.9 1280.1L1768.9 1280.7L1769.9 1281.4L1770.9 1282.0L1771.9 1282.7L1772.9 1283.4L1773.9 1284.1L1774.9 1284.8L1775.9 1285.5L1776.9 1286.3L1777.9 1287.0L1778.9 1287.8L1779.9 1288.6L1780.9 1289.4L1781.9 1290.3L1782.9 1291.1L1783.9 1292.0L1784.9 1292.8L1785.9 1293.7L1786.9 1294.6L1787.9 1295.5L1788.9 1296.5L1789.9 1297.4L1790.9 1298.3L1791.9 1299.3L1792.9 1300.3L1793.9 1301.2L1794.9 1302.2L1795.9 1303.1L1796.9 1304.1L1797.9 1305.1L1798.9 1306.0L1799.9 1307.0L1800.9 1307.9L1801.9 1308.9L1802.9 1309.8L1803.9 1310.8L1804.9 1311.7L1805.9 1312.6L1806.9 1313.5L1807.9 1314.4L1808.9 1315.3L1809.9 1316.2L1810.9 1317.0L1811.9 1317.8L1812.9 1318.7L1813.9 1319.4L1814.9 1320.2L1815.9 1321.0L1816.9 1321.7L1817.9 1322.4L1818.9 1323.1L1819.9 1323.7L1820.9 1324.3L1821.9 1324.9L1822.9 1325.4L1823.9 1326.0L1824.9 1326.4L1825.9 1326.8L1826.9 1327.2L1827.9 1327.6L1828.9 1327.9L1829.9 1328.1L1830.9 1328.3L1831.9 1328.4L1832.9 1328.5L1833.9 1328.5L1834.9 1328.5L1835.9 1328.4L1836.9 1328.2L1837.9 1327.9L1838.9 1327.6L1839.9 1327.2L1840.9 1326.8L1841.9 1326.2L1842.9 1325.6L1843.9 1324.9L1844.9 1324.1L1845.9 1323.3L1846.9 1322.4L1847.9 1321.3L1848.9 1320.2L1849.9 1319.1L1850.9 1317.8L1851.9 1316.5L1852.9 1315.0L1853.9 1313.5L1854.9 1311.9L1855.9 1310.3L1856.9 1308.6L1857.9 1306.7L1858.9 1304.9L1859.9 1302.9L1860.9 1300.9L1861.9 1298.8L1862.9 1296.7L1863.9 1294.5L1864.9 1292.2L1865.9 1289.9L1866.9 1287.5L1867.9 1285.1L1868.9 1282.6L1869.9 1280.1L1870.9 1277.6L1871.9 1275.0L1872.9 1272.3L1873.9 1269.7L1874.9 1266.9L1875.9 1264.2L1876.9 1261.4L1877.9 1258.6L1878.9 1255.8L1879.9 1252.9L1880.9 1250.0L1881.9 1247.1L1882.9 1244.1L1883.9 1241.1L1884.9 1238.1L1885.9 1235.1L1886.9 1232.0L1887.9 1228.9L1888.9 1225.8L1889.9 1222.7L1890.9 1219.5L1891.9 1216.3L1892.9 1213.1L1893.9 1209.8L1894.9 1206.6L1895.9 1203.3L1896.9 1199.9L1897.9 1196.6L1898.9 1193.2L1899.9 1189.8L1900.9 1186.3L1901.9 1182.9L1902.9 1179.4L1903.9 1175.9L1904.9 1172.4L1905.9 1168.8L1906.9 1165.3L1907.9 1161.7L1908.9 1158.1L1909.9 1154.5L1910.9 1150.9L1911.9 1147.3L1912.9 1143.7L1913.9 1140.0L1914.9 1136.4L1915.9 1132.8L1916.9 1129.2L1917.9 1125.7L1918.9 1122.1L1919.9 1118.6L1920.9 1115.0L1921.9 1111.6L1922.9 1108.1L1923.9 1104.7L1924.9 1101.3L1925.9 1098.0L1926.9 1094.7L1927.9 1091.4L1928.9 1088.2L1929.9 1085.1L1930.9 1082.0L1931.9 1079.0L1932.9 1076.0L1933.9 1073.1L1934.9 1070.2L1935.9 1067.4L1936.9 1064.7L1937.9 1062.1L1938.9 1059.5L1939.9 1057.0L1940.9 1054.6L1941.9 1052.2L1942.9 1049.9L1943.9 1047.7L1944.9 1045.5L1945.9 1043.4L1946.9 1041.4L1947.9 1039.5L1948.9 1037.6L1949.9 1035.8L1950.9 1034.1L1951.9 1032.4L1952.9 1030.9L1953.9 1029.3L1954.9 1027.9L1955.9 1026.5L1956.9 1025.2L1957.9 1024.0L1958.9 1022.8L1959.9 1021.7L1960.9 1020.7L1961.9 1019.7L1962.9 1018.8L1963.9 1017.9L1964.9 1017.1L1965.9 1016.4L1966.9 1015.8L1967.9 1015.2L1968.9 1014.7L1969.9 1014.2L1970.9 1013.8L1971.9 1013.4L1972.9 1013.2L1973.9 1012.9L1974.9 1012.8L1975.9 1012.7L1976.9 1012.6L1977.9 1012.6L1978.9 1012.7L1979.9 1012.8L1980.9 1012.9L1981.9 1013.2L1982.9 1013.4L1983.9 1013.7L1984.9 1014.1L1985.9 1014.5L1986.9 1015.0L1987.9 1015.4L1988.9 1016.0L1989.9 1016.6L1990.9 1017.2L1991.9 1017.8L1992.9 1018.5L1993.9 1019.3L1994.9 1020.0L1995.9 1020.8L1996.9 1021.6L1997.9 1022.5L1998.9 1023.4L1999.9 1024.3L2000.9 1025.2L2001.9 1026.2L2002.9 1027.2L2003.9 1028.3L2004.9 1029.3L2005.9 1030.4L2006.9 1031.5L2007.9 1032.6L2008.9 1033.8L2009.9 1035.0L2010.9 1036.2L2011.9 1037.5L2012.9 1038.8L2013.9 1040.1L2014.9 1041.5L2015.9 1042.8L2016.9 1044.3L2017.9 1045.7L2018.9 1047.2L2019.9 1048.8L2020.9 1050.4L2021.9 1052.0L2022.9 1053.7L2023.9 1055.4L2024.9 1057.1L2025.9 1058.9L2026.9 1060.8L2027.9 1062.7L2028.9 1064.7L2029.9 1066.7L2030.9 1068.8L2031.9 1070.9L2032.9 1073.1L2033.9 1075.3L2034.9 1077.6L2035.9 1080.0L2036.9 1082.4L2037.9 1084.9L2038.9 1087.4L2039.9 1090.0L2040.9 1092.6L2041.9 1095.3L2042.9 1098.1L2043.9 1100.9L2044.9 1103.7L2045.9 1106.6L2046.9 1109.6L2047.9 1112.6L2048.9 1115.6L2049.9 1118.7L2050.9 1121.9L2051.9 1125.0L2052.9 1128.3L2053.9 1131.5L2054.9 1134.8L2055.9 1138.2L2056.9 1141.6L2057.9 1145.0L2058.9 1148.4L2059.9 1151.9L2060.9 1155.4L2061.9 1159.0L2062.9 1162.5L2063.9 1166.1L2064.9 1169.8L2065.9 1173.4L2066.9 1177.1L2067.9 1180.8L2068.9 1184.6L2069.9 1188.3L2070.9 1192.1L2071.9 1195.9L2072.9 1199.7L2073.9 1203.6L2074.9 1207.5L2075.9 1211.4L2076.9 1215.3L2077.9 1219.2L2078.9 1223.2L2079.9 1227.2L2080.9 1231.2L2081.9 1235.2L2082.9 1239.3L2083.9 1243.3L2084.9 1247.4L2085.9 1251.5L2086.9 1255.6L2087.9 1259.8L2088.9 1263.9L2089.9 1268.1L2090.9 1272.2L2091.9 1276.4L2092.9 1280.6L2093.9 1284.8L2094.9 1289.0L2095.9 1293.2L2096.9 1297.4L2097.9 1301.6L2098.9 1305.8L2099.9 1310.0L2100.9 1314.2L2101.9 1318.3L2102.9 1322.5L2103.9 1326.6L2104.9 1330.8L2105.9 1334.9L2106.9 1338.9L2107.9 1343.0L2108.9 1347.0L2109.9 1351.0L2110.9 1355.0L2111.9 1358.9L2112.9 1362.7L2113.9 1366.6L2114.9 1370.4L2115.9 1374.1L2116.9 1377.8L2117.9 1381.5L2118.9 1385.1L2119.9 1388.7L2120.9 1392.2L2121.9 1395.6L2122.9 1399.0L2123.9 1402.4L2124.9 1405.7L2125.9 1408.9L2126.9 1412.1L2127.9 1415.2L2128.9 1418.2L2129.9 1421.2L2130.9 1424.2L2131.9 1427.1L2132.9 1429.9L2133.9 1432.7L2134.9 1435.4L2135.9 1438.0L2136.9 1440.6L2137.9 1443.1L2138.9 1445.6L2139.9 1448.0L2140.9 1450.4L2141.9 1452.7L2142.9 1455.0L2143.9 1457.2L2144.9 1459.4L2145.9 1461.5L2146.9 1463.5L2147.9 1465.5L2148.9 1467.5L2149.9 1469.4L2150.9 1471.2L2151.9 1473.0L2152.9 1474.8L2153.9 1476.5L2154.9 1478.1L2155.9 1479.7L2156.9 1481.3L2157.9 1482.8L2158.9 1484.3L2159.9 1485.7L2160.9 1487.1L2161.9 1488.5L2162.9 1489.8L2163.9 1491.0L2164.9 1492.3L2165.9 1493.4L2166.9 1494.6L2167.9 1495.7L2168.9 1496.7L2169.9 1497.8L2170.9 1498.8L2171.9 1499.7L2172.9 1500.6L2173.9 1501.5L2174.9 1502.3L2175.9 1503.2L2176.9 1503.9L2177.9 1504.7L2178.9 1505.4L2179.9 1506.1L2180.9 1506.7L2181.9 1507.3L2182.9 1507.9L2183.9 1508.5L2184.9 1509.0L2185.9 1509.5L2186.9 1510.0L2187.9 1510.5L2188.9 1510.9L2189.9 1511.3L2190.9 1511.7L2191.9 1512.1L2192.9 1512.4L2193.9 1512.7L2194.9 1513.0L2195.9 1513.3L2196.9 1513.6L2197.9 1513.8L2198.9 1514.1L2199.9 1514.3L2200.9 1514.5L2201.9 1514.7L2202.9 1514.9L2203.9 1515.1L2204.9 1515.2L2205.9 1515.4L2206.9 1515.5L2207.9 1515.6L2208.9 1515.7L2209.9 1515.8L2210.9 1515.9L2211.9 1516.0L2212.9 1516.1L2213.9 1516.2L2214.9 1516.3L2215.9 1516.3L2216.9 1516.4L2217.9 1516.5L2218.9 1516.5L2219.9 1516.6L2220.9 1516.6L2221.9 1516.6L2222.9 1516.7L2223.9 1516.7L2224.9 1516.7L2225.9 1516.8L2226.9 1516.8L2227.9 1516.8L2228.9 1516.8L2229.9 1516.8L2230.9 1516.9L2231.9 1516.9L2232.9 1516.9L2233.9 1516.9L2234.9 1516.9L2235.9 1516.9L2236.9 1516.9L2237.9 1516.9L2238.9 1517.0" fill="none" stroke="#000" stroke-width="2.40" stroke-linejoin="round" stroke-linecap="butt"/>
</g>
<rect x="114.7" y="1516.20" width="2225.3" height="2.20" fill="#828282"/>
<rect x="165.95" y="1517.00" width="2.00" height="5.80" fill="#828282"/>
<rect x="683.28" y="1517.00" width="2.00" height="5.80" fill="#828282"/>
<rect x="1200.60" y="1517.00" width="2.00" height="5.80" fill="#828282"/>
<rect x="1717.93" y="1517.00" width="2.00" height="5.80" fill="#828282"/>
<rect x="2235.25" y="1517.00" width="2.00" height="5.80" fill="#828282"/>
<text transform="translate(60.57 85.40) scale(1.1335 1)" font-size="72.00" fill="#000" font-weight="bold">How</text>
<text transform="translate(239.14 85.40) scale(1.1645 1)" font-size="72.00" fill="#000" font-weight="bold">long</text>
<text transform="translate(409.44 85.40) scale(1.1811 1)" font-size="72.00" fill="#000" font-weight="bold">does</text>
<text transform="translate(588.76 85.40) scale(1.1417 1)" font-size="72.00" fill="#000" font-weight="bold">it</text>
<text transform="translate(655.47 85.40) scale(1.1344 1)" font-size="72.00" fill="#000" font-weight="bold">take</text>
<text transform="translate(821.20 85.40) scale(1.1968 1)" font-size="72.00" fill="#000" font-weight="bold">to</text>
<text transform="translate(910.89 85.40) scale(1.0071 1)" font-size="72.00" fill="#ff0000" font-weight="bold">DCA</text>
<text transform="translate(1084.25 85.40) scale(1.1235 1)" font-size="72.00" fill="#000" font-weight="bold">$<tspan font-size="54.00" textLength="32.40" lengthAdjust="spacingAndGlyphs">1</tspan>m</text>
<text transform="translate(1244.81 85.40) scale(1.1972 1)" font-size="72.00" fill="#000" font-weight="bold">on</text>
<text transform="translate(1351.12 85.40) scale(1.1763 1)" font-size="72.00" fill="#000" font-weight="bold">the</text>
<text transform="translate(1479.83 85.40) scale(1.1224 1)" font-size="72.00" fill="#000" font-weight="bold">SP<tspan dy="12.96" font-size="69.12">5</tspan><tspan dy="-12.96" font-size="54.00" textLength="41.76" lengthAdjust="spacingAndGlyphs">0</tspan><tspan font-size="54.00" textLength="41.76" lengthAdjust="spacingAndGlyphs">0</tspan>?</text>
<text transform="translate(60.27 180.80) scale(1.0250 1)" font-size="35.20" fill="#8c8c8c" stroke="#8c8c8c" stroke-width="0.10" stroke-linejoin="round">Looking</text>
<text transform="translate(190.39 180.80) scale(1.1084 1)" font-size="35.20" fill="#8c8c8c" stroke="#8c8c8c" stroke-width="0.10" stroke-linejoin="round">at</text>
<text transform="translate(226.30 180.80) scale(0.9988 1)" font-size="35.20" fill="#8c8c8c" stroke="#8c8c8c" stroke-width="0.10" stroke-linejoin="round"><tspan font-size="26.40" textLength="15.83" lengthAdjust="spacingAndGlyphs">1</tspan><tspan font-size="26.40" textLength="20.41" lengthAdjust="spacingAndGlyphs">0</tspan><tspan font-size="26.40" textLength="20.41" lengthAdjust="spacingAndGlyphs">0</tspan></text>
<text transform="translate(291.30 180.80) scale(1.0618 1)" font-size="35.20" fill="#8c8c8c" stroke="#8c8c8c" stroke-width="0.10" stroke-linejoin="round">years</text>
<text transform="translate(378.32 180.80) scale(1.0771 1)" font-size="35.20" fill="#8c8c8c" stroke="#8c8c8c" stroke-width="0.10" stroke-linejoin="round">of</text>
<text transform="translate(415.76 180.80) scale(1.0450 1)" font-size="35.20" fill="#8c8c8c" stroke="#8c8c8c" stroke-width="0.10" stroke-linejoin="round">stock</text>
<text transform="translate(503.60 180.80) scale(1.0732 1)" font-size="35.20" fill="#8c8c8c" stroke="#8c8c8c" stroke-width="0.10" stroke-linejoin="round">market</text>
<text transform="translate(617.90 180.80) scale(1.0565 1)" font-size="35.20" fill="#8c8c8c" stroke="#8c8c8c" stroke-width="0.10" stroke-linejoin="round">history</text>
<text transform="translate(730.90 180.80) scale(1.0310 1)" font-size="35.20" fill="#8c8c8c" stroke="#8c8c8c" stroke-width="0.10" stroke-linejoin="round">it</text>
<text transform="translate(760.00 180.80) scale(1.0208 1)" font-size="35.20" fill="#8c8c8c" stroke="#8c8c8c" stroke-width="0.10" stroke-linejoin="round">typically</text>
<text transform="translate(894.10 180.80) scale(1.0765 1)" font-size="35.20" fill="#8c8c8c" stroke="#8c8c8c" stroke-width="0.10" stroke-linejoin="round">takes</text>
<text transform="translate(979.83 180.80) scale(1.1101 1)" font-size="35.20" fill="#8c8c8c" stroke="#8c8c8c" stroke-width="0.10" stroke-linejoin="round"><tspan dy="6.34" font-size="33.79">3</tspan><tspan dy="-6.34" font-size="26.40" textLength="17.95" lengthAdjust="spacingAndGlyphs">2</tspan></text>
<text transform="translate(1025.80 180.80) scale(1.0645 1)" font-size="35.20" fill="#8c8c8c" stroke="#8c8c8c" stroke-width="0.10" stroke-linejoin="round">years</text>
<text transform="translate(1112.62 180.80) scale(1.0841 1)" font-size="35.20" fill="#8c8c8c" stroke="#8c8c8c" stroke-width="0.10" stroke-linejoin="round">of</text>
<text transform="translate(1150.13 180.80) scale(1.0669 1)" font-size="35.20" fill="#8c8c8c" stroke="#8c8c8c" stroke-width="0.10" stroke-linejoin="round">dollar</text>
<text transform="translate(1246.24 180.80) scale(1.0570 1)" font-size="35.20" fill="#8c8c8c" stroke="#8c8c8c" stroke-width="0.10" stroke-linejoin="round">cost</text>
<text transform="translate(1314.05 180.80) scale(1.0515 1)" font-size="35.20" fill="#8c8c8c" stroke="#8c8c8c" stroke-width="0.10" stroke-linejoin="round">averaging</text>
<text transform="translate(1469.78 180.80) scale(1.0183 1)" font-size="35.20" fill="#8c8c8c" stroke="#8c8c8c" stroke-width="0.10" stroke-linejoin="round">$<tspan font-size="26.40" textLength="15.83" lengthAdjust="spacingAndGlyphs">1</tspan><tspan dy="6.34" font-size="33.79">5</tspan><tspan dy="-6.34" font-size="26.40" textLength="20.41" lengthAdjust="spacingAndGlyphs">0</tspan></text>
<text transform="translate(1550.90 180.80) scale(1.0792 1)" font-size="35.20" fill="#8c8c8c" stroke="#8c8c8c" stroke-width="0.10" stroke-linejoin="round">per</text>
<text transform="translate(1608.40 180.80) scale(1.0113 1)" font-size="35.20" fill="#8c8c8c" stroke="#8c8c8c" stroke-width="0.10" stroke-linejoin="round">week</text>
<text transform="translate(1692.60 180.80) scale(1.0530 1)" font-size="35.20" fill="#8c8c8c" stroke="#8c8c8c" stroke-width="0.10" stroke-linejoin="round">to</text>
<text transform="translate(1730.60 180.80) scale(1.0617 1)" font-size="35.20" fill="#8c8c8c" stroke="#8c8c8c" stroke-width="0.10" stroke-linejoin="round">reach</text>
<text transform="translate(1821.74 180.80) scale(1.0553 1)" font-size="35.20" fill="#8c8c8c" stroke="#8c8c8c" stroke-width="0.10" stroke-linejoin="round">$<tspan font-size="26.40" textLength="15.83" lengthAdjust="spacingAndGlyphs">1</tspan>m.</text>
<text transform="translate(1037.05 440.30) scale(1.0451 1)" font-size="35.30" fill="#f12a0c" stroke="#f12a0c" stroke-width="0.10" stroke-linejoin="round">On average takes <tspan dy="6.35" font-size="33.89">3</tspan><tspan dy="-6.35" font-size="26.47" textLength="18.01" lengthAdjust="spacingAndGlyphs">2</tspan> years</text>
<text transform="translate(1037.30 473.90) scale(1.0263 1)" font-size="35.30" fill="#f12a0c" stroke="#f12a0c" stroke-width="0.10" stroke-linejoin="round">to DCA the SP<tspan dy="6.35" font-size="33.89">5</tspan><tspan dy="-6.35" font-size="26.47" textLength="20.48" lengthAdjust="spacingAndGlyphs">0</tspan><tspan font-size="26.47" textLength="20.48" lengthAdjust="spacingAndGlyphs">0</tspan> to $<tspan font-size="26.47" textLength="15.89" lengthAdjust="spacingAndGlyphs">1</tspan>m.</text>
<text transform="translate(1988.95 939.10) scale(1.0234 1)" font-size="35.30" fill="#4ea2ba" stroke="#4ea2ba" stroke-width="0.10" stroke-linejoin="round">At worst it will take you</text>
<text transform="translate(1990.20 972.70) scale(1.0560 1)" font-size="35.30" fill="#4ea2ba" stroke="#4ea2ba" stroke-width="0.10" stroke-linejoin="round"><tspan dy="6.35" font-size="33.89">4</tspan><tspan dy="-6.35" font-size="26.47" textLength="20.48" lengthAdjust="spacingAndGlyphs">0</tspan> years to get there.</text>
<text transform="translate(83.95 1192.80) scale(1.0399 1)" font-size="35.30" fill="#4ea2ba" stroke="#4ea2ba" stroke-width="0.10" stroke-linejoin="round">At best you can reach</text>
<text transform="translate(86.16 1226.60) scale(1.0393 1)" font-size="35.30" fill="#4ea2ba" stroke="#4ea2ba" stroke-width="0.10" stroke-linejoin="round">$<tspan font-size="26.47" textLength="15.89" lengthAdjust="spacingAndGlyphs">1</tspan>m in <tspan font-size="26.47" textLength="18.01" lengthAdjust="spacingAndGlyphs">2</tspan><tspan font-size="26.47" textLength="20.48" lengthAdjust="spacingAndGlyphs">0</tspan> years.</text>
<text transform="translate(976.20 1639.40) scale(1.0307 1)" font-size="44.00" fill="#8c8c8c" stroke="#8c8c8c" stroke-width="0.10" stroke-linejoin="round">Years of DCA to reach $<tspan font-size="33.00" textLength="19.80" lengthAdjust="spacingAndGlyphs">1</tspan>m</text>
<text transform="translate(60.40 1697.70) scale(1.0712 1)" font-size="21.70" fill="#8c8c8c" stroke="#8c8c8c" stroke-width="0.08" stroke-linejoin="round">Notes: updated November <tspan font-size="16.27" textLength="11.06" lengthAdjust="spacingAndGlyphs">2</tspan><tspan dy="3.91" font-size="20.83">3</tspan><tspan dy="-3.91">, </tspan><tspan font-size="16.27" textLength="11.06" lengthAdjust="spacingAndGlyphs">2</tspan><tspan font-size="16.27" textLength="12.58" lengthAdjust="spacingAndGlyphs">0</tspan><tspan font-size="16.27" textLength="11.06" lengthAdjust="spacingAndGlyphs">2</tspan><tspan font-size="16.27" textLength="11.06" lengthAdjust="spacingAndGlyphs">2</tspan></text>
<text transform="translate(59.63 1720.70) scale(1.0715 1)" font-size="21.70" fill="#8c8c8c" stroke="#8c8c8c" stroke-width="0.08" stroke-linejoin="round">Source: Yahoo Finance</text>
<text transform="translate(60.90 1743.60) scale(1.0536 1)" font-size="21.70" fill="#8c8c8c" stroke="#8c8c8c" stroke-width="0.08" stroke-linejoin="round">By: @ecoinometrics, ecoinometrics.com</text>
<text transform="translate(147.74 1551.10) scale(0.9388 1)" font-size="37.50" fill="#8c8c8c" stroke="#8c8c8c" stroke-width="0.10" stroke-linejoin="round"><tspan font-size="28.12" textLength="19.12" lengthAdjust="spacingAndGlyphs">2</tspan><tspan font-size="28.12" textLength="21.75" lengthAdjust="spacingAndGlyphs">0</tspan></text>
<text transform="translate(666.62 1551.10) scale(0.9580 1)" font-size="37.50" fill="#8c8c8c" stroke="#8c8c8c" stroke-width="0.10" stroke-linejoin="round"><tspan font-size="28.12" textLength="19.12" lengthAdjust="spacingAndGlyphs">2</tspan><tspan dy="6.75" font-size="36.00">5</tspan></text>
<text transform="translate(1181.96 1551.10) scale(0.9836 1)" font-size="37.50" fill="#8c8c8c" stroke="#8c8c8c" stroke-width="0.10" stroke-linejoin="round"><tspan dy="6.75" font-size="36.00">3</tspan><tspan dy="-6.75" font-size="28.12" textLength="21.75" lengthAdjust="spacingAndGlyphs">0</tspan></text>
<text transform="translate(1700.53 1551.10) scale(1.0111 1)" font-size="37.50" fill="#8c8c8c" stroke="#8c8c8c" stroke-width="0.10" stroke-linejoin="round"><tspan dy="6.75" font-size="36.00">35</tspan></text>
<text transform="translate(2216.60 1551.10) scale(0.9877 1)" font-size="37.50" fill="#8c8c8c" stroke="#8c8c8c" stroke-width="0.10" stroke-linejoin="round"><tspan dy="6.75" font-size="36.00">4</tspan><tspan dy="-6.75" font-size="28.12" textLength="21.75" lengthAdjust="spacingAndGlyphs">0</tspan></text>
</svg></body></html>
